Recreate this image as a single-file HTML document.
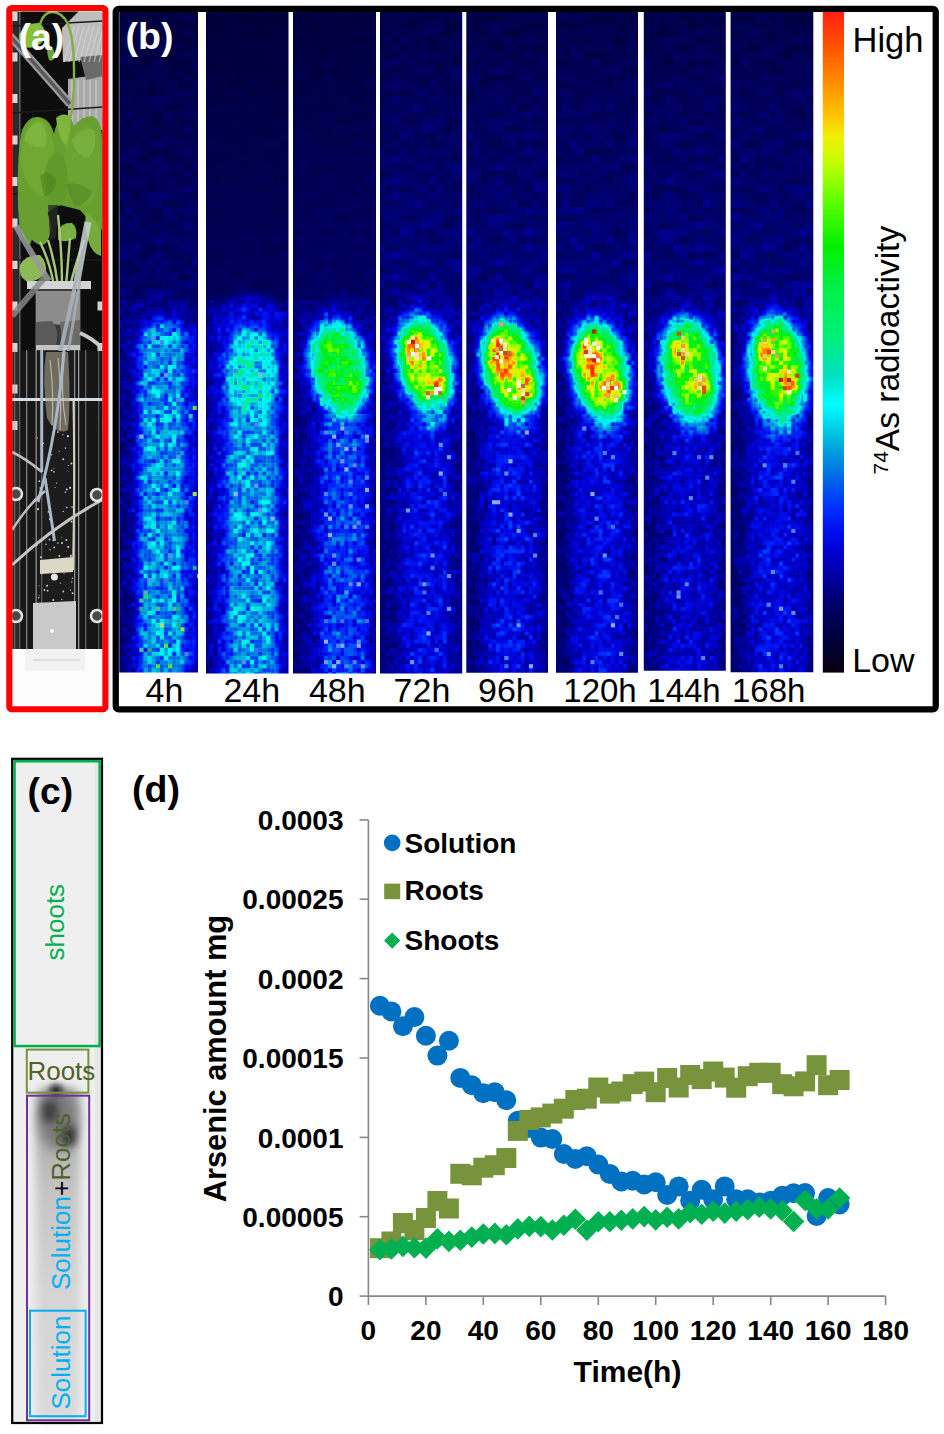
<!DOCTYPE html><html><head><meta charset="utf-8"><title>Figure</title><style>
html,body{margin:0;padding:0;background:#fff;}body{width:944px;height:1434px;overflow:hidden;position:relative;}
svg{position:absolute;left:0;top:0;}text{font-family:"Liberation Sans",sans-serif;}.m{mix-blend-mode:multiply;}
</style></head><body>
<svg width="944" height="1434" viewBox="0 0 944 1434">
<defs>
<filter id="jet" x="0" y="0" width="1" height="1" color-interpolation-filters="sRGB"><feComponentTransfer><feFuncR type="table" tableValues="0.039 0.028 0.017 0.005 0.000 0.000 0.000 0.000 0.000 0.000 0.000 0.000 0.000 0.000 0.000 0.000 0.000 0.000 0.000 0.000 0.000 0.000 0.000 0.000 0.000 0.000 0.000 0.000 0.000 0.000 0.000 0.000 0.000 0.000 0.000 0.000 0.000 0.000 0.000 0.000 0.000 0.036 0.120 0.204 0.289 0.373 0.480 0.589 0.698 0.790 0.864 0.939 0.971 1.000 1.000 1.000 1.000 1.000 1.000 1.000 1.000 1.000 1.000 1.000"/><feFuncG type="table" tableValues="0.000 0.000 0.000 0.000 0.000 0.000 0.000 0.000 0.000 0.000 0.000 0.000 0.019 0.047 0.089 0.146 0.208 0.287 0.365 0.448 0.531 0.615 0.700 0.785 0.868 0.952 0.981 0.938 0.894 0.891 0.909 0.928 0.941 0.941 0.941 0.941 0.941 0.941 0.941 0.941 0.941 0.947 0.960 0.973 0.986 0.999 1.000 1.000 1.000 0.989 0.965 0.942 0.861 0.779 0.711 0.643 0.575 0.507 0.439 0.371 0.305 0.245 0.185 0.125"/><feFuncB type="table" tableValues="0.063 0.117 0.171 0.226 0.281 0.338 0.394 0.455 0.538 0.621 0.704 0.787 0.853 0.910 0.953 0.980 0.991 0.953 0.915 0.898 0.884 0.878 0.878 0.894 0.935 0.976 0.962 0.873 0.784 0.704 0.629 0.554 0.488 0.442 0.396 0.350 0.305 0.259 0.190 0.116 0.042 0.000 0.000 0.000 0.000 0.000 0.000 0.000 0.000 0.000 0.000 0.000 0.000 0.000 0.000 0.000 0.000 0.000 0.000 0.000 0.003 0.023 0.043 0.063"/></feComponentTransfer></filter>
<filter id="b1" x="-50%" y="-50%" width="200%" height="200%"><feGaussianBlur stdDeviation="1"/></filter>
<filter id="b2" x="-50%" y="-50%" width="200%" height="200%"><feGaussianBlur stdDeviation="2"/></filter>
<filter id="b3" x="-50%" y="-50%" width="200%" height="200%"><feGaussianBlur stdDeviation="3"/></filter>
<filter id="b4" x="-50%" y="-50%" width="200%" height="200%"><feGaussianBlur stdDeviation="4"/></filter>
<filter id="b5" x="-50%" y="-50%" width="200%" height="200%"><feGaussianBlur stdDeviation="5"/></filter>
<filter id="b6" x="-50%" y="-50%" width="200%" height="200%"><feGaussianBlur stdDeviation="6"/></filter>
<filter id="b7" x="-50%" y="-50%" width="200%" height="200%"><feGaussianBlur stdDeviation="7"/></filter>
<filter id="b8" x="-50%" y="-50%" width="200%" height="200%"><feGaussianBlur stdDeviation="8"/></filter>
<filter id="b10" x="-50%" y="-50%" width="200%" height="200%"><feGaussianBlur stdDeviation="10"/></filter>
<filter id="b12" x="-50%" y="-50%" width="200%" height="200%"><feGaussianBlur stdDeviation="12"/></filter>
<filter id="b14" x="-50%" y="-50%" width="200%" height="200%"><feGaussianBlur stdDeviation="14"/></filter>
<linearGradient id="cbar" x1="0" y1="1" x2="0" y2="0">
<stop offset="0.000" stop-color="rgb(10,0,16)"/>
<stop offset="0.055" stop-color="rgb(0,0,64)"/>
<stop offset="0.108" stop-color="rgb(0,0,112)"/>
<stop offset="0.144" stop-color="rgb(0,0,160)"/>
<stop offset="0.180" stop-color="rgb(0,0,208)"/>
<stop offset="0.215" stop-color="rgb(0,16,240)"/>
<stop offset="0.250" stop-color="rgb(0,48,255)"/>
<stop offset="0.288" stop-color="rgb(0,96,232)"/>
<stop offset="0.324" stop-color="rgb(0,144,224)"/>
<stop offset="0.359" stop-color="rgb(0,192,224)"/>
<stop offset="0.406" stop-color="rgb(0,255,255)"/>
<stop offset="0.450" stop-color="rgb(0,224,192)"/>
<stop offset="0.503" stop-color="rgb(0,240,128)"/>
<stop offset="0.590" stop-color="rgb(0,240,64)"/>
<stop offset="0.644" stop-color="rgb(0,240,0)"/>
<stop offset="0.715" stop-color="rgb(96,255,0)"/>
<stop offset="0.770" stop-color="rgb(192,255,0)"/>
<stop offset="0.810" stop-color="rgb(240,240,0)"/>
<stop offset="0.840" stop-color="rgb(255,200,0)"/>
<stop offset="0.895" stop-color="rgb(255,140,0)"/>
<stop offset="0.950" stop-color="rgb(255,80,0)"/>
<stop offset="1.000" stop-color="rgb(255,32,16)"/>
</linearGradient>
<pattern id="nzA" x="0" y="0" width="77.9" height="77.9" patternUnits="userSpaceOnUse"><rect width="77.9" height="77.9" fill="#fff"/><rect x="0.0" y="0.0" width="4.14" height="4.14" fill="#c8c8c8"/><rect x="0.0" y="4.1" width="4.14" height="4.14" fill="#bababa"/><rect x="0.0" y="8.2" width="4.14" height="4.14" fill="#e3e3e3"/><rect x="0.0" y="12.3" width="4.14" height="4.14" fill="#b3b3b3"/><rect x="0.0" y="16.4" width="4.14" height="4.14" fill="#d9d9d9"/><rect x="0.0" y="20.5" width="4.14" height="4.14" fill="#cbcbcb"/><rect x="0.0" y="24.6" width="4.14" height="4.14" fill="#b2b2b2"/><rect x="0.0" y="28.7" width="4.14" height="4.14" fill="#d7d7d7"/><rect x="0.0" y="32.8" width="4.14" height="4.14" fill="#b0b0b0"/><rect x="0.0" y="36.9" width="4.14" height="4.14" fill="#d1d1d1"/><rect x="0.0" y="41.0" width="4.14" height="4.14" fill="#b3b3b3"/><rect x="0.0" y="45.1" width="4.14" height="4.14" fill="#b5b5b5"/><rect x="0.0" y="49.2" width="4.14" height="4.14" fill="#d0d0d0"/><rect x="0.0" y="53.3" width="4.14" height="4.14" fill="#f1f1f1"/><rect x="0.0" y="57.4" width="4.14" height="4.14" fill="#b8b8b8"/><rect x="0.0" y="61.5" width="4.14" height="4.14" fill="#c0c0c0"/><rect x="0.0" y="65.6" width="4.14" height="4.14" fill="#e1e1e1"/><rect x="0.0" y="69.7" width="4.14" height="4.14" fill="#fbfbfb"/><rect x="0.0" y="73.8" width="4.14" height="4.14" fill="#dcdcdc"/><rect x="4.1" y="0.0" width="4.14" height="4.14" fill="#cecece"/><rect x="4.1" y="8.2" width="4.14" height="4.14" fill="#b1b1b1"/><rect x="4.1" y="12.3" width="4.14" height="4.14" fill="#f3f3f3"/><rect x="4.1" y="16.4" width="4.14" height="4.14" fill="#c5c5c5"/><rect x="4.1" y="20.5" width="4.14" height="4.14" fill="#b9b9b9"/><rect x="4.1" y="24.6" width="4.14" height="4.14" fill="#b7b7b7"/><rect x="4.1" y="28.7" width="4.14" height="4.14" fill="#c7c7c7"/><rect x="4.1" y="32.8" width="4.14" height="4.14" fill="#f0f0f0"/><rect x="4.1" y="36.9" width="4.14" height="4.14" fill="#bcbcbc"/><rect x="4.1" y="41.0" width="4.14" height="4.14" fill="#dddddd"/><rect x="4.1" y="45.1" width="4.14" height="4.14" fill="#e2e2e2"/><rect x="4.1" y="49.2" width="4.14" height="4.14" fill="#cccccc"/><rect x="4.1" y="53.3" width="4.14" height="4.14" fill="#dadada"/><rect x="4.1" y="57.4" width="4.14" height="4.14" fill="#b3b3b3"/><rect x="4.1" y="61.5" width="4.14" height="4.14" fill="#b2b2b2"/><rect x="4.1" y="65.6" width="4.14" height="4.14" fill="#bebebe"/><rect x="4.1" y="69.7" width="4.14" height="4.14" fill="#e5e5e5"/><rect x="4.1" y="73.8" width="4.14" height="4.14" fill="#d0d0d0"/><rect x="8.2" y="0.0" width="4.14" height="4.14" fill="#c7c7c7"/><rect x="8.2" y="4.1" width="4.14" height="4.14" fill="#dddddd"/><rect x="8.2" y="8.2" width="4.14" height="4.14" fill="#d2d2d2"/><rect x="8.2" y="12.3" width="4.14" height="4.14" fill="#c6c6c6"/><rect x="8.2" y="16.4" width="4.14" height="4.14" fill="#eeeeee"/><rect x="8.2" y="20.5" width="4.14" height="4.14" fill="#e6e6e6"/><rect x="8.2" y="24.6" width="4.14" height="4.14" fill="#c1c1c1"/><rect x="8.2" y="28.7" width="4.14" height="4.14" fill="#dcdcdc"/><rect x="8.2" y="32.8" width="4.14" height="4.14" fill="#d8d8d8"/><rect x="8.2" y="36.9" width="4.14" height="4.14" fill="#f5f5f5"/><rect x="8.2" y="41.0" width="4.14" height="4.14" fill="#e9e9e9"/><rect x="8.2" y="45.1" width="4.14" height="4.14" fill="#c5c5c5"/><rect x="8.2" y="53.3" width="4.14" height="4.14" fill="#b7b7b7"/><rect x="8.2" y="57.4" width="4.14" height="4.14" fill="#d0d0d0"/><rect x="8.2" y="61.5" width="4.14" height="4.14" fill="#ebebeb"/><rect x="8.2" y="65.6" width="4.14" height="4.14" fill="#bababa"/><rect x="8.2" y="69.7" width="4.14" height="4.14" fill="#d5d5d5"/><rect x="8.2" y="73.8" width="4.14" height="4.14" fill="#b1b1b1"/><rect x="12.3" y="0.0" width="4.14" height="4.14" fill="#e4e4e4"/><rect x="12.3" y="4.1" width="4.14" height="4.14" fill="#ececec"/><rect x="12.3" y="8.2" width="4.14" height="4.14" fill="#dcdcdc"/><rect x="12.3" y="12.3" width="4.14" height="4.14" fill="#f5f5f5"/><rect x="12.3" y="16.4" width="4.14" height="4.14" fill="#c7c7c7"/><rect x="12.3" y="20.5" width="4.14" height="4.14" fill="#e6e6e6"/><rect x="12.3" y="24.6" width="4.14" height="4.14" fill="#dedede"/><rect x="12.3" y="28.7" width="4.14" height="4.14" fill="#dddddd"/><rect x="12.3" y="32.8" width="4.14" height="4.14" fill="#d3d3d3"/><rect x="12.3" y="36.9" width="4.14" height="4.14" fill="#f2f2f2"/><rect x="12.3" y="41.0" width="4.14" height="4.14" fill="#fafafa"/><rect x="12.3" y="45.1" width="4.14" height="4.14" fill="#d4d4d4"/><rect x="12.3" y="49.2" width="4.14" height="4.14" fill="#e4e4e4"/><rect x="12.3" y="53.3" width="4.14" height="4.14" fill="#b2b2b2"/><rect x="12.3" y="57.4" width="4.14" height="4.14" fill="#e7e7e7"/><rect x="12.3" y="61.5" width="4.14" height="4.14" fill="#e2e2e2"/><rect x="12.3" y="69.7" width="4.14" height="4.14" fill="#f0f0f0"/><rect x="12.3" y="73.8" width="4.14" height="4.14" fill="#c5c5c5"/><rect x="16.4" y="0.0" width="4.14" height="4.14" fill="#cdcdcd"/><rect x="16.4" y="4.1" width="4.14" height="4.14" fill="#e4e4e4"/><rect x="16.4" y="8.2" width="4.14" height="4.14" fill="#afafaf"/><rect x="16.4" y="12.3" width="4.14" height="4.14" fill="#d3d3d3"/><rect x="16.4" y="16.4" width="4.14" height="4.14" fill="#bbbbbb"/><rect x="16.4" y="20.5" width="4.14" height="4.14" fill="#b7b7b7"/><rect x="16.4" y="24.6" width="4.14" height="4.14" fill="#b2b2b2"/><rect x="16.4" y="28.7" width="4.14" height="4.14" fill="#ececec"/><rect x="16.4" y="32.8" width="4.14" height="4.14" fill="#b8b8b8"/><rect x="16.4" y="36.9" width="4.14" height="4.14" fill="#c2c2c2"/><rect x="16.4" y="41.0" width="4.14" height="4.14" fill="#cdcdcd"/><rect x="16.4" y="45.1" width="4.14" height="4.14" fill="#f5f5f5"/><rect x="16.4" y="49.2" width="4.14" height="4.14" fill="#b4b4b4"/><rect x="16.4" y="53.3" width="4.14" height="4.14" fill="#d2d2d2"/><rect x="16.4" y="57.4" width="4.14" height="4.14" fill="#dadada"/><rect x="16.4" y="61.5" width="4.14" height="4.14" fill="#f5f5f5"/><rect x="16.4" y="65.6" width="4.14" height="4.14" fill="#f0f0f0"/><rect x="16.4" y="69.7" width="4.14" height="4.14" fill="#f4f4f4"/><rect x="16.4" y="73.8" width="4.14" height="4.14" fill="#c4c4c4"/><rect x="20.5" y="0.0" width="4.14" height="4.14" fill="#cfcfcf"/><rect x="20.5" y="4.1" width="4.14" height="4.14" fill="#cbcbcb"/><rect x="20.5" y="8.2" width="4.14" height="4.14" fill="#f6f6f6"/><rect x="20.5" y="16.4" width="4.14" height="4.14" fill="#bababa"/><rect x="20.5" y="20.5" width="4.14" height="4.14" fill="#bcbcbc"/><rect x="20.5" y="24.6" width="4.14" height="4.14" fill="#c0c0c0"/><rect x="20.5" y="28.7" width="4.14" height="4.14" fill="#c0c0c0"/><rect x="20.5" y="32.8" width="4.14" height="4.14" fill="#d5d5d5"/><rect x="20.5" y="36.9" width="4.14" height="4.14" fill="#dddddd"/><rect x="20.5" y="41.0" width="4.14" height="4.14" fill="#c3c3c3"/><rect x="20.5" y="45.1" width="4.14" height="4.14" fill="#aeaeae"/><rect x="20.5" y="49.2" width="4.14" height="4.14" fill="#d0d0d0"/><rect x="20.5" y="53.3" width="4.14" height="4.14" fill="#cccccc"/><rect x="20.5" y="57.4" width="4.14" height="4.14" fill="#dcdcdc"/><rect x="20.5" y="61.5" width="4.14" height="4.14" fill="#fbfbfb"/><rect x="20.5" y="65.6" width="4.14" height="4.14" fill="#e6e6e6"/><rect x="20.5" y="69.7" width="4.14" height="4.14" fill="#d7d7d7"/><rect x="20.5" y="73.8" width="4.14" height="4.14" fill="#e0e0e0"/><rect x="24.6" y="0.0" width="4.14" height="4.14" fill="#e5e5e5"/><rect x="24.6" y="4.1" width="4.14" height="4.14" fill="#b2b2b2"/><rect x="24.6" y="8.2" width="4.14" height="4.14" fill="#f7f7f7"/><rect x="24.6" y="12.3" width="4.14" height="4.14" fill="#ededed"/><rect x="24.6" y="16.4" width="4.14" height="4.14" fill="#f5f5f5"/><rect x="24.6" y="20.5" width="4.14" height="4.14" fill="#efefef"/><rect x="24.6" y="24.6" width="4.14" height="4.14" fill="#cdcdcd"/><rect x="24.6" y="28.7" width="4.14" height="4.14" fill="#cecece"/><rect x="24.6" y="32.8" width="4.14" height="4.14" fill="#b6b6b6"/><rect x="24.6" y="36.9" width="4.14" height="4.14" fill="#e1e1e1"/><rect x="24.6" y="41.0" width="4.14" height="4.14" fill="#b2b2b2"/><rect x="24.6" y="45.1" width="4.14" height="4.14" fill="#b3b3b3"/><rect x="24.6" y="49.2" width="4.14" height="4.14" fill="#bebebe"/><rect x="24.6" y="53.3" width="4.14" height="4.14" fill="#bbbbbb"/><rect x="24.6" y="57.4" width="4.14" height="4.14" fill="#c9c9c9"/><rect x="24.6" y="61.5" width="4.14" height="4.14" fill="#b2b2b2"/><rect x="24.6" y="65.6" width="4.14" height="4.14" fill="#adadad"/><rect x="24.6" y="69.7" width="4.14" height="4.14" fill="#bababa"/><rect x="24.6" y="73.8" width="4.14" height="4.14" fill="#b6b6b6"/><rect x="28.7" y="0.0" width="4.14" height="4.14" fill="#cbcbcb"/><rect x="28.7" y="4.1" width="4.14" height="4.14" fill="#afafaf"/><rect x="28.7" y="8.2" width="4.14" height="4.14" fill="#f5f5f5"/><rect x="28.7" y="12.3" width="4.14" height="4.14" fill="#e0e0e0"/><rect x="28.7" y="16.4" width="4.14" height="4.14" fill="#bababa"/><rect x="28.7" y="20.5" width="4.14" height="4.14" fill="#c2c2c2"/><rect x="28.7" y="24.6" width="4.14" height="4.14" fill="#cacaca"/><rect x="28.7" y="28.7" width="4.14" height="4.14" fill="#cbcbcb"/><rect x="28.7" y="32.8" width="4.14" height="4.14" fill="#b7b7b7"/><rect x="28.7" y="36.9" width="4.14" height="4.14" fill="#f3f3f3"/><rect x="28.7" y="45.1" width="4.14" height="4.14" fill="#d3d3d3"/><rect x="28.7" y="49.2" width="4.14" height="4.14" fill="#d5d5d5"/><rect x="28.7" y="53.3" width="4.14" height="4.14" fill="#b4b4b4"/><rect x="28.7" y="57.4" width="4.14" height="4.14" fill="#b6b6b6"/><rect x="28.7" y="61.5" width="4.14" height="4.14" fill="#c9c9c9"/><rect x="28.7" y="65.6" width="4.14" height="4.14" fill="#c3c3c3"/><rect x="28.7" y="69.7" width="4.14" height="4.14" fill="#f1f1f1"/><rect x="28.7" y="73.8" width="4.14" height="4.14" fill="#bbbbbb"/><rect x="32.8" y="0.0" width="4.14" height="4.14" fill="#afafaf"/><rect x="32.8" y="4.1" width="4.14" height="4.14" fill="#fbfbfb"/><rect x="32.8" y="8.2" width="4.14" height="4.14" fill="#d9d9d9"/><rect x="32.8" y="12.3" width="4.14" height="4.14" fill="#b9b9b9"/><rect x="32.8" y="16.4" width="4.14" height="4.14" fill="#dadada"/><rect x="32.8" y="20.5" width="4.14" height="4.14" fill="#b0b0b0"/><rect x="32.8" y="24.6" width="4.14" height="4.14" fill="#d8d8d8"/><rect x="32.8" y="32.8" width="4.14" height="4.14" fill="#f4f4f4"/><rect x="32.8" y="36.9" width="4.14" height="4.14" fill="#e6e6e6"/><rect x="32.8" y="41.0" width="4.14" height="4.14" fill="#c3c3c3"/><rect x="32.8" y="45.1" width="4.14" height="4.14" fill="#cbcbcb"/><rect x="32.8" y="49.2" width="4.14" height="4.14" fill="#bbbbbb"/><rect x="32.8" y="53.3" width="4.14" height="4.14" fill="#ececec"/><rect x="32.8" y="57.4" width="4.14" height="4.14" fill="#d9d9d9"/><rect x="32.8" y="61.5" width="4.14" height="4.14" fill="#ededed"/><rect x="32.8" y="65.6" width="4.14" height="4.14" fill="#c8c8c8"/><rect x="32.8" y="69.7" width="4.14" height="4.14" fill="#c0c0c0"/><rect x="32.8" y="73.8" width="4.14" height="4.14" fill="#f0f0f0"/><rect x="36.9" y="4.1" width="4.14" height="4.14" fill="#f3f3f3"/><rect x="36.9" y="8.2" width="4.14" height="4.14" fill="#efefef"/><rect x="36.9" y="12.3" width="4.14" height="4.14" fill="#f0f0f0"/><rect x="36.9" y="16.4" width="4.14" height="4.14" fill="#eaeaea"/><rect x="36.9" y="20.5" width="4.14" height="4.14" fill="#c0c0c0"/><rect x="36.9" y="24.6" width="4.14" height="4.14" fill="#d8d8d8"/><rect x="36.9" y="28.7" width="4.14" height="4.14" fill="#cacaca"/><rect x="36.9" y="32.8" width="4.14" height="4.14" fill="#b0b0b0"/><rect x="36.9" y="36.9" width="4.14" height="4.14" fill="#b0b0b0"/><rect x="36.9" y="41.0" width="4.14" height="4.14" fill="#c4c4c4"/><rect x="36.9" y="45.1" width="4.14" height="4.14" fill="#c3c3c3"/><rect x="36.9" y="49.2" width="4.14" height="4.14" fill="#e6e6e6"/><rect x="36.9" y="57.4" width="4.14" height="4.14" fill="#d2d2d2"/><rect x="36.9" y="61.5" width="4.14" height="4.14" fill="#fafafa"/><rect x="36.9" y="73.8" width="4.14" height="4.14" fill="#cbcbcb"/><rect x="41.0" y="0.0" width="4.14" height="4.14" fill="#bfbfbf"/><rect x="41.0" y="4.1" width="4.14" height="4.14" fill="#c0c0c0"/><rect x="41.0" y="8.2" width="4.14" height="4.14" fill="#bdbdbd"/><rect x="41.0" y="12.3" width="4.14" height="4.14" fill="#bebebe"/><rect x="41.0" y="16.4" width="4.14" height="4.14" fill="#e0e0e0"/><rect x="41.0" y="20.5" width="4.14" height="4.14" fill="#f7f7f7"/><rect x="41.0" y="24.6" width="4.14" height="4.14" fill="#f2f2f2"/><rect x="41.0" y="28.7" width="4.14" height="4.14" fill="#d5d5d5"/><rect x="41.0" y="32.8" width="4.14" height="4.14" fill="#e3e3e3"/><rect x="41.0" y="36.9" width="4.14" height="4.14" fill="#efefef"/><rect x="41.0" y="41.0" width="4.14" height="4.14" fill="#b4b4b4"/><rect x="41.0" y="45.1" width="4.14" height="4.14" fill="#e3e3e3"/><rect x="41.0" y="49.2" width="4.14" height="4.14" fill="#f8f8f8"/><rect x="41.0" y="53.3" width="4.14" height="4.14" fill="#ededed"/><rect x="41.0" y="57.4" width="4.14" height="4.14" fill="#ebebeb"/><rect x="41.0" y="61.5" width="4.14" height="4.14" fill="#d4d4d4"/><rect x="41.0" y="65.6" width="4.14" height="4.14" fill="#bcbcbc"/><rect x="41.0" y="69.7" width="4.14" height="4.14" fill="#eeeeee"/><rect x="41.0" y="73.8" width="4.14" height="4.14" fill="#c9c9c9"/><rect x="45.1" y="0.0" width="4.14" height="4.14" fill="#efefef"/><rect x="45.1" y="8.2" width="4.14" height="4.14" fill="#cecece"/><rect x="45.1" y="12.3" width="4.14" height="4.14" fill="#cecece"/><rect x="45.1" y="16.4" width="4.14" height="4.14" fill="#fbfbfb"/><rect x="45.1" y="20.5" width="4.14" height="4.14" fill="#e9e9e9"/><rect x="45.1" y="24.6" width="4.14" height="4.14" fill="#bbbbbb"/><rect x="45.1" y="28.7" width="4.14" height="4.14" fill="#b8b8b8"/><rect x="45.1" y="32.8" width="4.14" height="4.14" fill="#bababa"/><rect x="45.1" y="36.9" width="4.14" height="4.14" fill="#f7f7f7"/><rect x="45.1" y="41.0" width="4.14" height="4.14" fill="#efefef"/><rect x="45.1" y="45.1" width="4.14" height="4.14" fill="#b9b9b9"/><rect x="45.1" y="49.2" width="4.14" height="4.14" fill="#f1f1f1"/><rect x="45.1" y="57.4" width="4.14" height="4.14" fill="#e3e3e3"/><rect x="45.1" y="61.5" width="4.14" height="4.14" fill="#cacaca"/><rect x="45.1" y="65.6" width="4.14" height="4.14" fill="#dadada"/><rect x="45.1" y="69.7" width="4.14" height="4.14" fill="#b8b8b8"/><rect x="45.1" y="73.8" width="4.14" height="4.14" fill="#afafaf"/><rect x="49.2" y="4.1" width="4.14" height="4.14" fill="#e2e2e2"/><rect x="49.2" y="8.2" width="4.14" height="4.14" fill="#d8d8d8"/><rect x="49.2" y="12.3" width="4.14" height="4.14" fill="#fafafa"/><rect x="49.2" y="16.4" width="4.14" height="4.14" fill="#d1d1d1"/><rect x="49.2" y="20.5" width="4.14" height="4.14" fill="#f5f5f5"/><rect x="49.2" y="24.6" width="4.14" height="4.14" fill="#f1f1f1"/><rect x="49.2" y="28.7" width="4.14" height="4.14" fill="#bfbfbf"/><rect x="49.2" y="32.8" width="4.14" height="4.14" fill="#c2c2c2"/><rect x="49.2" y="36.9" width="4.14" height="4.14" fill="#c5c5c5"/><rect x="49.2" y="41.0" width="4.14" height="4.14" fill="#c1c1c1"/><rect x="49.2" y="45.1" width="4.14" height="4.14" fill="#dddddd"/><rect x="49.2" y="49.2" width="4.14" height="4.14" fill="#c3c3c3"/><rect x="49.2" y="53.3" width="4.14" height="4.14" fill="#d0d0d0"/><rect x="49.2" y="57.4" width="4.14" height="4.14" fill="#b8b8b8"/><rect x="49.2" y="61.5" width="4.14" height="4.14" fill="#f8f8f8"/><rect x="49.2" y="65.6" width="4.14" height="4.14" fill="#cacaca"/><rect x="49.2" y="69.7" width="4.14" height="4.14" fill="#d3d3d3"/><rect x="49.2" y="73.8" width="4.14" height="4.14" fill="#dddddd"/><rect x="53.3" y="0.0" width="4.14" height="4.14" fill="#f7f7f7"/><rect x="53.3" y="4.1" width="4.14" height="4.14" fill="#d0d0d0"/><rect x="53.3" y="8.2" width="4.14" height="4.14" fill="#f8f8f8"/><rect x="53.3" y="12.3" width="4.14" height="4.14" fill="#d6d6d6"/><rect x="53.3" y="16.4" width="4.14" height="4.14" fill="#d9d9d9"/><rect x="53.3" y="20.5" width="4.14" height="4.14" fill="#d8d8d8"/><rect x="53.3" y="24.6" width="4.14" height="4.14" fill="#afafaf"/><rect x="53.3" y="28.7" width="4.14" height="4.14" fill="#d1d1d1"/><rect x="53.3" y="32.8" width="4.14" height="4.14" fill="#bcbcbc"/><rect x="53.3" y="36.9" width="4.14" height="4.14" fill="#aeaeae"/><rect x="53.3" y="41.0" width="4.14" height="4.14" fill="#efefef"/><rect x="53.3" y="45.1" width="4.14" height="4.14" fill="#bbbbbb"/><rect x="53.3" y="49.2" width="4.14" height="4.14" fill="#d4d4d4"/><rect x="53.3" y="53.3" width="4.14" height="4.14" fill="#e9e9e9"/><rect x="53.3" y="57.4" width="4.14" height="4.14" fill="#dbdbdb"/><rect x="53.3" y="61.5" width="4.14" height="4.14" fill="#c8c8c8"/><rect x="53.3" y="65.6" width="4.14" height="4.14" fill="#d8d8d8"/><rect x="53.3" y="69.7" width="4.14" height="4.14" fill="#dbdbdb"/><rect x="53.3" y="73.8" width="4.14" height="4.14" fill="#ededed"/><rect x="57.4" y="0.0" width="4.14" height="4.14" fill="#b6b6b6"/><rect x="57.4" y="4.1" width="4.14" height="4.14" fill="#dbdbdb"/><rect x="57.4" y="8.2" width="4.14" height="4.14" fill="#c2c2c2"/><rect x="57.4" y="12.3" width="4.14" height="4.14" fill="#c4c4c4"/><rect x="57.4" y="16.4" width="4.14" height="4.14" fill="#ececec"/><rect x="57.4" y="20.5" width="4.14" height="4.14" fill="#d7d7d7"/><rect x="57.4" y="24.6" width="4.14" height="4.14" fill="#dbdbdb"/><rect x="57.4" y="28.7" width="4.14" height="4.14" fill="#ebebeb"/><rect x="57.4" y="32.8" width="4.14" height="4.14" fill="#f8f8f8"/><rect x="57.4" y="36.9" width="4.14" height="4.14" fill="#d2d2d2"/><rect x="57.4" y="41.0" width="4.14" height="4.14" fill="#dfdfdf"/><rect x="57.4" y="45.1" width="4.14" height="4.14" fill="#d7d7d7"/><rect x="57.4" y="49.2" width="4.14" height="4.14" fill="#d7d7d7"/><rect x="57.4" y="53.3" width="4.14" height="4.14" fill="#e6e6e6"/><rect x="57.4" y="57.4" width="4.14" height="4.14" fill="#d2d2d2"/><rect x="57.4" y="61.5" width="4.14" height="4.14" fill="#d9d9d9"/><rect x="57.4" y="65.6" width="4.14" height="4.14" fill="#d4d4d4"/><rect x="57.4" y="69.7" width="4.14" height="4.14" fill="#fafafa"/><rect x="57.4" y="73.8" width="4.14" height="4.14" fill="#e6e6e6"/><rect x="61.5" y="0.0" width="4.14" height="4.14" fill="#f5f5f5"/><rect x="61.5" y="4.1" width="4.14" height="4.14" fill="#fafafa"/><rect x="61.5" y="8.2" width="4.14" height="4.14" fill="#c3c3c3"/><rect x="61.5" y="12.3" width="4.14" height="4.14" fill="#dbdbdb"/><rect x="61.5" y="16.4" width="4.14" height="4.14" fill="#fafafa"/><rect x="61.5" y="20.5" width="4.14" height="4.14" fill="#f2f2f2"/><rect x="61.5" y="24.6" width="4.14" height="4.14" fill="#b9b9b9"/><rect x="61.5" y="28.7" width="4.14" height="4.14" fill="#b7b7b7"/><rect x="61.5" y="32.8" width="4.14" height="4.14" fill="#d1d1d1"/><rect x="61.5" y="36.9" width="4.14" height="4.14" fill="#b3b3b3"/><rect x="61.5" y="41.0" width="4.14" height="4.14" fill="#c1c1c1"/><rect x="61.5" y="45.1" width="4.14" height="4.14" fill="#b3b3b3"/><rect x="61.5" y="49.2" width="4.14" height="4.14" fill="#e4e4e4"/><rect x="61.5" y="53.3" width="4.14" height="4.14" fill="#ededed"/><rect x="61.5" y="57.4" width="4.14" height="4.14" fill="#f7f7f7"/><rect x="61.5" y="61.5" width="4.14" height="4.14" fill="#bababa"/><rect x="61.5" y="65.6" width="4.14" height="4.14" fill="#e8e8e8"/><rect x="61.5" y="69.7" width="4.14" height="4.14" fill="#e3e3e3"/><rect x="61.5" y="73.8" width="4.14" height="4.14" fill="#b9b9b9"/><rect x="65.6" y="0.0" width="4.14" height="4.14" fill="#f5f5f5"/><rect x="65.6" y="8.2" width="4.14" height="4.14" fill="#bfbfbf"/><rect x="65.6" y="12.3" width="4.14" height="4.14" fill="#fbfbfb"/><rect x="65.6" y="16.4" width="4.14" height="4.14" fill="#cecece"/><rect x="65.6" y="20.5" width="4.14" height="4.14" fill="#d5d5d5"/><rect x="65.6" y="28.7" width="4.14" height="4.14" fill="#f1f1f1"/><rect x="65.6" y="32.8" width="4.14" height="4.14" fill="#bbbbbb"/><rect x="65.6" y="36.9" width="4.14" height="4.14" fill="#d1d1d1"/><rect x="65.6" y="41.0" width="4.14" height="4.14" fill="#d7d7d7"/><rect x="65.6" y="45.1" width="4.14" height="4.14" fill="#c9c9c9"/><rect x="65.6" y="49.2" width="4.14" height="4.14" fill="#bdbdbd"/><rect x="65.6" y="53.3" width="4.14" height="4.14" fill="#c7c7c7"/><rect x="65.6" y="57.4" width="4.14" height="4.14" fill="#e8e8e8"/><rect x="65.6" y="61.5" width="4.14" height="4.14" fill="#afafaf"/><rect x="65.6" y="65.6" width="4.14" height="4.14" fill="#dbdbdb"/><rect x="65.6" y="69.7" width="4.14" height="4.14" fill="#d1d1d1"/><rect x="65.6" y="73.8" width="4.14" height="4.14" fill="#afafaf"/><rect x="69.7" y="0.0" width="4.14" height="4.14" fill="#c8c8c8"/><rect x="69.7" y="4.1" width="4.14" height="4.14" fill="#e0e0e0"/><rect x="69.7" y="8.2" width="4.14" height="4.14" fill="#d7d7d7"/><rect x="69.7" y="12.3" width="4.14" height="4.14" fill="#b3b3b3"/><rect x="69.7" y="20.5" width="4.14" height="4.14" fill="#eeeeee"/><rect x="69.7" y="28.7" width="4.14" height="4.14" fill="#b6b6b6"/><rect x="69.7" y="32.8" width="4.14" height="4.14" fill="#c3c3c3"/><rect x="69.7" y="36.9" width="4.14" height="4.14" fill="#b1b1b1"/><rect x="69.7" y="41.0" width="4.14" height="4.14" fill="#ededed"/><rect x="69.7" y="45.1" width="4.14" height="4.14" fill="#c3c3c3"/><rect x="69.7" y="49.2" width="4.14" height="4.14" fill="#b8b8b8"/><rect x="69.7" y="53.3" width="4.14" height="4.14" fill="#d0d0d0"/><rect x="69.7" y="57.4" width="4.14" height="4.14" fill="#f8f8f8"/><rect x="69.7" y="61.5" width="4.14" height="4.14" fill="#f0f0f0"/><rect x="69.7" y="65.6" width="4.14" height="4.14" fill="#c3c3c3"/><rect x="69.7" y="69.7" width="4.14" height="4.14" fill="#bababa"/><rect x="69.7" y="73.8" width="4.14" height="4.14" fill="#f8f8f8"/><rect x="73.8" y="0.0" width="4.14" height="4.14" fill="#dcdcdc"/><rect x="73.8" y="4.1" width="4.14" height="4.14" fill="#e7e7e7"/><rect x="73.8" y="8.2" width="4.14" height="4.14" fill="#b5b5b5"/><rect x="73.8" y="12.3" width="4.14" height="4.14" fill="#b2b2b2"/><rect x="73.8" y="16.4" width="4.14" height="4.14" fill="#e6e6e6"/><rect x="73.8" y="20.5" width="4.14" height="4.14" fill="#d0d0d0"/><rect x="73.8" y="24.6" width="4.14" height="4.14" fill="#b3b3b3"/><rect x="73.8" y="28.7" width="4.14" height="4.14" fill="#fafafa"/><rect x="73.8" y="32.8" width="4.14" height="4.14" fill="#e1e1e1"/><rect x="73.8" y="36.9" width="4.14" height="4.14" fill="#efefef"/><rect x="73.8" y="41.0" width="4.14" height="4.14" fill="#b4b4b4"/><rect x="73.8" y="45.1" width="4.14" height="4.14" fill="#f3f3f3"/><rect x="73.8" y="49.2" width="4.14" height="4.14" fill="#b3b3b3"/><rect x="73.8" y="53.3" width="4.14" height="4.14" fill="#f4f4f4"/><rect x="73.8" y="57.4" width="4.14" height="4.14" fill="#d2d2d2"/><rect x="73.8" y="61.5" width="4.14" height="4.14" fill="#c9c9c9"/><rect x="73.8" y="65.6" width="4.14" height="4.14" fill="#dbdbdb"/><rect x="73.8" y="69.7" width="4.14" height="4.14" fill="#f9f9f9"/><rect x="73.8" y="73.8" width="4.14" height="4.14" fill="#c3c3c3"/></pattern>
<pattern id="nzB" x="0" y="0" width="94.3" height="94.3" patternUnits="userSpaceOnUse"><rect width="94.3" height="94.3" fill="#fff"/><rect x="0.0" y="0.0" width="4.14" height="4.14" fill="#b8b8b8"/><rect x="0.0" y="4.1" width="4.14" height="4.14" fill="#d8d8d8"/><rect x="0.0" y="8.2" width="4.14" height="4.14" fill="#c1c1c1"/><rect x="0.0" y="12.3" width="4.14" height="4.14" fill="#b6b6b6"/><rect x="0.0" y="16.4" width="4.14" height="4.14" fill="#bbbbbb"/><rect x="0.0" y="20.5" width="4.14" height="4.14" fill="#b2b2b2"/><rect x="0.0" y="24.6" width="4.14" height="4.14" fill="#bebebe"/><rect x="0.0" y="28.7" width="4.14" height="4.14" fill="#c7c7c7"/><rect x="0.0" y="32.8" width="4.14" height="4.14" fill="#c6c6c6"/><rect x="0.0" y="36.9" width="4.14" height="4.14" fill="#ebebeb"/><rect x="0.0" y="41.0" width="4.14" height="4.14" fill="#c5c5c5"/><rect x="0.0" y="45.1" width="4.14" height="4.14" fill="#d6d6d6"/><rect x="0.0" y="49.2" width="4.14" height="4.14" fill="#bcbcbc"/><rect x="0.0" y="53.3" width="4.14" height="4.14" fill="#cacaca"/><rect x="0.0" y="57.4" width="4.14" height="4.14" fill="#afafaf"/><rect x="0.0" y="61.5" width="4.14" height="4.14" fill="#c2c2c2"/><rect x="0.0" y="65.6" width="4.14" height="4.14" fill="#afafaf"/><rect x="0.0" y="69.7" width="4.14" height="4.14" fill="#e9e9e9"/><rect x="0.0" y="73.8" width="4.14" height="4.14" fill="#dadada"/><rect x="0.0" y="77.9" width="4.14" height="4.14" fill="#bdbdbd"/><rect x="0.0" y="82.0" width="4.14" height="4.14" fill="#d4d4d4"/><rect x="0.0" y="86.1" width="4.14" height="4.14" fill="#fafafa"/><rect x="0.0" y="90.2" width="4.14" height="4.14" fill="#b6b6b6"/><rect x="4.1" y="0.0" width="4.14" height="4.14" fill="#f0f0f0"/><rect x="4.1" y="4.1" width="4.14" height="4.14" fill="#d1d1d1"/><rect x="4.1" y="8.2" width="4.14" height="4.14" fill="#d6d6d6"/><rect x="4.1" y="12.3" width="4.14" height="4.14" fill="#f2f2f2"/><rect x="4.1" y="16.4" width="4.14" height="4.14" fill="#cdcdcd"/><rect x="4.1" y="20.5" width="4.14" height="4.14" fill="#d7d7d7"/><rect x="4.1" y="24.6" width="4.14" height="4.14" fill="#e6e6e6"/><rect x="4.1" y="32.8" width="4.14" height="4.14" fill="#c9c9c9"/><rect x="4.1" y="36.9" width="4.14" height="4.14" fill="#f1f1f1"/><rect x="4.1" y="41.0" width="4.14" height="4.14" fill="#e7e7e7"/><rect x="4.1" y="45.1" width="4.14" height="4.14" fill="#e1e1e1"/><rect x="4.1" y="49.2" width="4.14" height="4.14" fill="#cecece"/><rect x="4.1" y="53.3" width="4.14" height="4.14" fill="#cacaca"/><rect x="4.1" y="57.4" width="4.14" height="4.14" fill="#b2b2b2"/><rect x="4.1" y="61.5" width="4.14" height="4.14" fill="#b8b8b8"/><rect x="4.1" y="65.6" width="4.14" height="4.14" fill="#b3b3b3"/><rect x="4.1" y="69.7" width="4.14" height="4.14" fill="#eaeaea"/><rect x="4.1" y="73.8" width="4.14" height="4.14" fill="#c2c2c2"/><rect x="4.1" y="77.9" width="4.14" height="4.14" fill="#bbbbbb"/><rect x="4.1" y="82.0" width="4.14" height="4.14" fill="#b4b4b4"/><rect x="4.1" y="86.1" width="4.14" height="4.14" fill="#f2f2f2"/><rect x="4.1" y="90.2" width="4.14" height="4.14" fill="#f4f4f4"/><rect x="8.2" y="0.0" width="4.14" height="4.14" fill="#e4e4e4"/><rect x="8.2" y="4.1" width="4.14" height="4.14" fill="#c4c4c4"/><rect x="8.2" y="8.2" width="4.14" height="4.14" fill="#c1c1c1"/><rect x="8.2" y="12.3" width="4.14" height="4.14" fill="#c5c5c5"/><rect x="8.2" y="16.4" width="4.14" height="4.14" fill="#d3d3d3"/><rect x="8.2" y="20.5" width="4.14" height="4.14" fill="#bababa"/><rect x="8.2" y="24.6" width="4.14" height="4.14" fill="#d2d2d2"/><rect x="8.2" y="28.7" width="4.14" height="4.14" fill="#c3c3c3"/><rect x="8.2" y="41.0" width="4.14" height="4.14" fill="#dadada"/><rect x="8.2" y="45.1" width="4.14" height="4.14" fill="#c1c1c1"/><rect x="8.2" y="53.3" width="4.14" height="4.14" fill="#c7c7c7"/><rect x="8.2" y="57.4" width="4.14" height="4.14" fill="#cacaca"/><rect x="8.2" y="61.5" width="4.14" height="4.14" fill="#adadad"/><rect x="8.2" y="65.6" width="4.14" height="4.14" fill="#cdcdcd"/><rect x="8.2" y="69.7" width="4.14" height="4.14" fill="#d4d4d4"/><rect x="8.2" y="73.8" width="4.14" height="4.14" fill="#d6d6d6"/><rect x="8.2" y="77.9" width="4.14" height="4.14" fill="#bebebe"/><rect x="8.2" y="82.0" width="4.14" height="4.14" fill="#d7d7d7"/><rect x="8.2" y="86.1" width="4.14" height="4.14" fill="#aeaeae"/><rect x="8.2" y="90.2" width="4.14" height="4.14" fill="#c3c3c3"/><rect x="12.3" y="0.0" width="4.14" height="4.14" fill="#b5b5b5"/><rect x="12.3" y="4.1" width="4.14" height="4.14" fill="#cecece"/><rect x="12.3" y="8.2" width="4.14" height="4.14" fill="#b1b1b1"/><rect x="12.3" y="12.3" width="4.14" height="4.14" fill="#afafaf"/><rect x="12.3" y="16.4" width="4.14" height="4.14" fill="#c6c6c6"/><rect x="12.3" y="20.5" width="4.14" height="4.14" fill="#c0c0c0"/><rect x="12.3" y="24.6" width="4.14" height="4.14" fill="#dddddd"/><rect x="12.3" y="28.7" width="4.14" height="4.14" fill="#d9d9d9"/><rect x="12.3" y="32.8" width="4.14" height="4.14" fill="#ebebeb"/><rect x="12.3" y="36.9" width="4.14" height="4.14" fill="#e3e3e3"/><rect x="12.3" y="41.0" width="4.14" height="4.14" fill="#e8e8e8"/><rect x="12.3" y="45.1" width="4.14" height="4.14" fill="#f5f5f5"/><rect x="12.3" y="49.2" width="4.14" height="4.14" fill="#cdcdcd"/><rect x="12.3" y="53.3" width="4.14" height="4.14" fill="#c8c8c8"/><rect x="12.3" y="61.5" width="4.14" height="4.14" fill="#bababa"/><rect x="12.3" y="65.6" width="4.14" height="4.14" fill="#e8e8e8"/><rect x="12.3" y="69.7" width="4.14" height="4.14" fill="#e2e2e2"/><rect x="12.3" y="73.8" width="4.14" height="4.14" fill="#b1b1b1"/><rect x="12.3" y="77.9" width="4.14" height="4.14" fill="#f2f2f2"/><rect x="12.3" y="82.0" width="4.14" height="4.14" fill="#f6f6f6"/><rect x="12.3" y="86.1" width="4.14" height="4.14" fill="#e1e1e1"/><rect x="12.3" y="90.2" width="4.14" height="4.14" fill="#e9e9e9"/><rect x="16.4" y="0.0" width="4.14" height="4.14" fill="#f0f0f0"/><rect x="16.4" y="4.1" width="4.14" height="4.14" fill="#b9b9b9"/><rect x="16.4" y="8.2" width="4.14" height="4.14" fill="#d8d8d8"/><rect x="16.4" y="12.3" width="4.14" height="4.14" fill="#d7d7d7"/><rect x="16.4" y="16.4" width="4.14" height="4.14" fill="#f2f2f2"/><rect x="16.4" y="20.5" width="4.14" height="4.14" fill="#efefef"/><rect x="16.4" y="24.6" width="4.14" height="4.14" fill="#f1f1f1"/><rect x="16.4" y="28.7" width="4.14" height="4.14" fill="#dddddd"/><rect x="16.4" y="32.8" width="4.14" height="4.14" fill="#f6f6f6"/><rect x="16.4" y="36.9" width="4.14" height="4.14" fill="#e5e5e5"/><rect x="16.4" y="41.0" width="4.14" height="4.14" fill="#e6e6e6"/><rect x="16.4" y="45.1" width="4.14" height="4.14" fill="#c0c0c0"/><rect x="16.4" y="49.2" width="4.14" height="4.14" fill="#b0b0b0"/><rect x="16.4" y="53.3" width="4.14" height="4.14" fill="#b8b8b8"/><rect x="16.4" y="57.4" width="4.14" height="4.14" fill="#cbcbcb"/><rect x="16.4" y="61.5" width="4.14" height="4.14" fill="#b6b6b6"/><rect x="16.4" y="65.6" width="4.14" height="4.14" fill="#f2f2f2"/><rect x="16.4" y="69.7" width="4.14" height="4.14" fill="#dbdbdb"/><rect x="16.4" y="73.8" width="4.14" height="4.14" fill="#e1e1e1"/><rect x="16.4" y="77.9" width="4.14" height="4.14" fill="#e1e1e1"/><rect x="16.4" y="82.0" width="4.14" height="4.14" fill="#e5e5e5"/><rect x="16.4" y="86.1" width="4.14" height="4.14" fill="#d5d5d5"/><rect x="16.4" y="90.2" width="4.14" height="4.14" fill="#aeaeae"/><rect x="20.5" y="0.0" width="4.14" height="4.14" fill="#eeeeee"/><rect x="20.5" y="4.1" width="4.14" height="4.14" fill="#eaeaea"/><rect x="20.5" y="8.2" width="4.14" height="4.14" fill="#d6d6d6"/><rect x="20.5" y="12.3" width="4.14" height="4.14" fill="#d9d9d9"/><rect x="20.5" y="16.4" width="4.14" height="4.14" fill="#e3e3e3"/><rect x="20.5" y="20.5" width="4.14" height="4.14" fill="#b3b3b3"/><rect x="20.5" y="24.6" width="4.14" height="4.14" fill="#eaeaea"/><rect x="20.5" y="28.7" width="4.14" height="4.14" fill="#c2c2c2"/><rect x="20.5" y="32.8" width="4.14" height="4.14" fill="#b3b3b3"/><rect x="20.5" y="36.9" width="4.14" height="4.14" fill="#c3c3c3"/><rect x="20.5" y="41.0" width="4.14" height="4.14" fill="#e9e9e9"/><rect x="20.5" y="45.1" width="4.14" height="4.14" fill="#bebebe"/><rect x="20.5" y="49.2" width="4.14" height="4.14" fill="#eaeaea"/><rect x="20.5" y="57.4" width="4.14" height="4.14" fill="#d6d6d6"/><rect x="20.5" y="61.5" width="4.14" height="4.14" fill="#cdcdcd"/><rect x="20.5" y="65.6" width="4.14" height="4.14" fill="#d4d4d4"/><rect x="20.5" y="69.7" width="4.14" height="4.14" fill="#e5e5e5"/><rect x="20.5" y="73.8" width="4.14" height="4.14" fill="#ececec"/><rect x="20.5" y="77.9" width="4.14" height="4.14" fill="#e0e0e0"/><rect x="20.5" y="82.0" width="4.14" height="4.14" fill="#e2e2e2"/><rect x="20.5" y="86.1" width="4.14" height="4.14" fill="#b4b4b4"/><rect x="20.5" y="90.2" width="4.14" height="4.14" fill="#b9b9b9"/><rect x="24.6" y="0.0" width="4.14" height="4.14" fill="#c2c2c2"/><rect x="24.6" y="4.1" width="4.14" height="4.14" fill="#eaeaea"/><rect x="24.6" y="8.2" width="4.14" height="4.14" fill="#c6c6c6"/><rect x="24.6" y="12.3" width="4.14" height="4.14" fill="#dcdcdc"/><rect x="24.6" y="16.4" width="4.14" height="4.14" fill="#aeaeae"/><rect x="24.6" y="20.5" width="4.14" height="4.14" fill="#b2b2b2"/><rect x="24.6" y="24.6" width="4.14" height="4.14" fill="#c3c3c3"/><rect x="24.6" y="28.7" width="4.14" height="4.14" fill="#e4e4e4"/><rect x="24.6" y="32.8" width="4.14" height="4.14" fill="#e6e6e6"/><rect x="24.6" y="36.9" width="4.14" height="4.14" fill="#e5e5e5"/><rect x="24.6" y="41.0" width="4.14" height="4.14" fill="#c5c5c5"/><rect x="24.6" y="45.1" width="4.14" height="4.14" fill="#d8d8d8"/><rect x="24.6" y="49.2" width="4.14" height="4.14" fill="#d3d3d3"/><rect x="24.6" y="53.3" width="4.14" height="4.14" fill="#d3d3d3"/><rect x="24.6" y="57.4" width="4.14" height="4.14" fill="#b7b7b7"/><rect x="24.6" y="61.5" width="4.14" height="4.14" fill="#f6f6f6"/><rect x="24.6" y="65.6" width="4.14" height="4.14" fill="#bebebe"/><rect x="24.6" y="73.8" width="4.14" height="4.14" fill="#fafafa"/><rect x="24.6" y="77.9" width="4.14" height="4.14" fill="#afafaf"/><rect x="24.6" y="82.0" width="4.14" height="4.14" fill="#d3d3d3"/><rect x="24.6" y="86.1" width="4.14" height="4.14" fill="#f0f0f0"/><rect x="28.7" y="0.0" width="4.14" height="4.14" fill="#d2d2d2"/><rect x="28.7" y="4.1" width="4.14" height="4.14" fill="#c3c3c3"/><rect x="28.7" y="8.2" width="4.14" height="4.14" fill="#bfbfbf"/><rect x="28.7" y="12.3" width="4.14" height="4.14" fill="#fbfbfb"/><rect x="28.7" y="16.4" width="4.14" height="4.14" fill="#bfbfbf"/><rect x="28.7" y="20.5" width="4.14" height="4.14" fill="#dddddd"/><rect x="28.7" y="24.6" width="4.14" height="4.14" fill="#b9b9b9"/><rect x="28.7" y="28.7" width="4.14" height="4.14" fill="#d8d8d8"/><rect x="28.7" y="32.8" width="4.14" height="4.14" fill="#fbfbfb"/><rect x="28.7" y="36.9" width="4.14" height="4.14" fill="#b8b8b8"/><rect x="28.7" y="41.0" width="4.14" height="4.14" fill="#f0f0f0"/><rect x="28.7" y="45.1" width="4.14" height="4.14" fill="#d7d7d7"/><rect x="28.7" y="49.2" width="4.14" height="4.14" fill="#f6f6f6"/><rect x="28.7" y="53.3" width="4.14" height="4.14" fill="#e7e7e7"/><rect x="28.7" y="57.4" width="4.14" height="4.14" fill="#c0c0c0"/><rect x="28.7" y="61.5" width="4.14" height="4.14" fill="#f7f7f7"/><rect x="28.7" y="65.6" width="4.14" height="4.14" fill="#d5d5d5"/><rect x="28.7" y="69.7" width="4.14" height="4.14" fill="#afafaf"/><rect x="28.7" y="73.8" width="4.14" height="4.14" fill="#aeaeae"/><rect x="28.7" y="77.9" width="4.14" height="4.14" fill="#d6d6d6"/><rect x="28.7" y="82.0" width="4.14" height="4.14" fill="#d2d2d2"/><rect x="28.7" y="86.1" width="4.14" height="4.14" fill="#c6c6c6"/><rect x="28.7" y="90.2" width="4.14" height="4.14" fill="#b9b9b9"/><rect x="32.8" y="0.0" width="4.14" height="4.14" fill="#c9c9c9"/><rect x="32.8" y="4.1" width="4.14" height="4.14" fill="#c7c7c7"/><rect x="32.8" y="8.2" width="4.14" height="4.14" fill="#f2f2f2"/><rect x="32.8" y="12.3" width="4.14" height="4.14" fill="#aeaeae"/><rect x="32.8" y="16.4" width="4.14" height="4.14" fill="#ebebeb"/><rect x="32.8" y="20.5" width="4.14" height="4.14" fill="#f2f2f2"/><rect x="32.8" y="24.6" width="4.14" height="4.14" fill="#b7b7b7"/><rect x="32.8" y="28.7" width="4.14" height="4.14" fill="#f9f9f9"/><rect x="32.8" y="32.8" width="4.14" height="4.14" fill="#e8e8e8"/><rect x="32.8" y="36.9" width="4.14" height="4.14" fill="#f7f7f7"/><rect x="32.8" y="41.0" width="4.14" height="4.14" fill="#c5c5c5"/><rect x="32.8" y="45.1" width="4.14" height="4.14" fill="#cccccc"/><rect x="32.8" y="49.2" width="4.14" height="4.14" fill="#cdcdcd"/><rect x="32.8" y="57.4" width="4.14" height="4.14" fill="#dddddd"/><rect x="32.8" y="61.5" width="4.14" height="4.14" fill="#cbcbcb"/><rect x="32.8" y="65.6" width="4.14" height="4.14" fill="#d0d0d0"/><rect x="32.8" y="69.7" width="4.14" height="4.14" fill="#c4c4c4"/><rect x="32.8" y="73.8" width="4.14" height="4.14" fill="#b1b1b1"/><rect x="32.8" y="77.9" width="4.14" height="4.14" fill="#b6b6b6"/><rect x="32.8" y="82.0" width="4.14" height="4.14" fill="#f2f2f2"/><rect x="32.8" y="86.1" width="4.14" height="4.14" fill="#c5c5c5"/><rect x="32.8" y="90.2" width="4.14" height="4.14" fill="#fafafa"/><rect x="36.9" y="0.0" width="4.14" height="4.14" fill="#c2c2c2"/><rect x="36.9" y="4.1" width="4.14" height="4.14" fill="#c3c3c3"/><rect x="36.9" y="8.2" width="4.14" height="4.14" fill="#d7d7d7"/><rect x="36.9" y="12.3" width="4.14" height="4.14" fill="#bdbdbd"/><rect x="36.9" y="16.4" width="4.14" height="4.14" fill="#cccccc"/><rect x="36.9" y="24.6" width="4.14" height="4.14" fill="#f6f6f6"/><rect x="36.9" y="28.7" width="4.14" height="4.14" fill="#f0f0f0"/><rect x="36.9" y="32.8" width="4.14" height="4.14" fill="#e1e1e1"/><rect x="36.9" y="36.9" width="4.14" height="4.14" fill="#f8f8f8"/><rect x="36.9" y="41.0" width="4.14" height="4.14" fill="#fafafa"/><rect x="36.9" y="45.1" width="4.14" height="4.14" fill="#dadada"/><rect x="36.9" y="49.2" width="4.14" height="4.14" fill="#e8e8e8"/><rect x="36.9" y="53.3" width="4.14" height="4.14" fill="#b1b1b1"/><rect x="36.9" y="57.4" width="4.14" height="4.14" fill="#e9e9e9"/><rect x="36.9" y="61.5" width="4.14" height="4.14" fill="#d2d2d2"/><rect x="36.9" y="65.6" width="4.14" height="4.14" fill="#ebebeb"/><rect x="36.9" y="69.7" width="4.14" height="4.14" fill="#e2e2e2"/><rect x="36.9" y="73.8" width="4.14" height="4.14" fill="#c5c5c5"/><rect x="36.9" y="77.9" width="4.14" height="4.14" fill="#b1b1b1"/><rect x="36.9" y="82.0" width="4.14" height="4.14" fill="#f9f9f9"/><rect x="36.9" y="86.1" width="4.14" height="4.14" fill="#b8b8b8"/><rect x="36.9" y="90.2" width="4.14" height="4.14" fill="#d4d4d4"/><rect x="41.0" y="0.0" width="4.14" height="4.14" fill="#c9c9c9"/><rect x="41.0" y="4.1" width="4.14" height="4.14" fill="#c6c6c6"/><rect x="41.0" y="8.2" width="4.14" height="4.14" fill="#eaeaea"/><rect x="41.0" y="16.4" width="4.14" height="4.14" fill="#c3c3c3"/><rect x="41.0" y="20.5" width="4.14" height="4.14" fill="#e3e3e3"/><rect x="41.0" y="24.6" width="4.14" height="4.14" fill="#c6c6c6"/><rect x="41.0" y="28.7" width="4.14" height="4.14" fill="#dbdbdb"/><rect x="41.0" y="32.8" width="4.14" height="4.14" fill="#cecece"/><rect x="41.0" y="36.9" width="4.14" height="4.14" fill="#bbbbbb"/><rect x="41.0" y="41.0" width="4.14" height="4.14" fill="#bbbbbb"/><rect x="41.0" y="45.1" width="4.14" height="4.14" fill="#bebebe"/><rect x="41.0" y="49.2" width="4.14" height="4.14" fill="#f7f7f7"/><rect x="41.0" y="53.3" width="4.14" height="4.14" fill="#d6d6d6"/><rect x="41.0" y="57.4" width="4.14" height="4.14" fill="#bfbfbf"/><rect x="41.0" y="61.5" width="4.14" height="4.14" fill="#f7f7f7"/><rect x="41.0" y="69.7" width="4.14" height="4.14" fill="#d2d2d2"/><rect x="41.0" y="73.8" width="4.14" height="4.14" fill="#b9b9b9"/><rect x="41.0" y="77.9" width="4.14" height="4.14" fill="#bdbdbd"/><rect x="41.0" y="82.0" width="4.14" height="4.14" fill="#b5b5b5"/><rect x="41.0" y="86.1" width="4.14" height="4.14" fill="#c9c9c9"/><rect x="41.0" y="90.2" width="4.14" height="4.14" fill="#b5b5b5"/><rect x="45.1" y="0.0" width="4.14" height="4.14" fill="#c1c1c1"/><rect x="45.1" y="4.1" width="4.14" height="4.14" fill="#c2c2c2"/><rect x="45.1" y="8.2" width="4.14" height="4.14" fill="#dcdcdc"/><rect x="45.1" y="12.3" width="4.14" height="4.14" fill="#f6f6f6"/><rect x="45.1" y="16.4" width="4.14" height="4.14" fill="#ebebeb"/><rect x="45.1" y="20.5" width="4.14" height="4.14" fill="#cfcfcf"/><rect x="45.1" y="24.6" width="4.14" height="4.14" fill="#cfcfcf"/><rect x="45.1" y="28.7" width="4.14" height="4.14" fill="#d8d8d8"/><rect x="45.1" y="32.8" width="4.14" height="4.14" fill="#cccccc"/><rect x="45.1" y="36.9" width="4.14" height="4.14" fill="#c9c9c9"/><rect x="45.1" y="41.0" width="4.14" height="4.14" fill="#b2b2b2"/><rect x="45.1" y="45.1" width="4.14" height="4.14" fill="#c4c4c4"/><rect x="45.1" y="53.3" width="4.14" height="4.14" fill="#b8b8b8"/><rect x="45.1" y="57.4" width="4.14" height="4.14" fill="#d6d6d6"/><rect x="45.1" y="61.5" width="4.14" height="4.14" fill="#e1e1e1"/><rect x="45.1" y="65.6" width="4.14" height="4.14" fill="#f4f4f4"/><rect x="45.1" y="69.7" width="4.14" height="4.14" fill="#bfbfbf"/><rect x="45.1" y="73.8" width="4.14" height="4.14" fill="#c4c4c4"/><rect x="45.1" y="77.9" width="4.14" height="4.14" fill="#c2c2c2"/><rect x="45.1" y="82.0" width="4.14" height="4.14" fill="#cecece"/><rect x="45.1" y="86.1" width="4.14" height="4.14" fill="#d2d2d2"/><rect x="49.2" y="0.0" width="4.14" height="4.14" fill="#f3f3f3"/><rect x="49.2" y="4.1" width="4.14" height="4.14" fill="#f5f5f5"/><rect x="49.2" y="8.2" width="4.14" height="4.14" fill="#afafaf"/><rect x="49.2" y="12.3" width="4.14" height="4.14" fill="#b0b0b0"/><rect x="49.2" y="16.4" width="4.14" height="4.14" fill="#e7e7e7"/><rect x="49.2" y="20.5" width="4.14" height="4.14" fill="#f6f6f6"/><rect x="49.2" y="24.6" width="4.14" height="4.14" fill="#d4d4d4"/><rect x="49.2" y="28.7" width="4.14" height="4.14" fill="#dddddd"/><rect x="49.2" y="32.8" width="4.14" height="4.14" fill="#adadad"/><rect x="49.2" y="36.9" width="4.14" height="4.14" fill="#cdcdcd"/><rect x="49.2" y="41.0" width="4.14" height="4.14" fill="#f9f9f9"/><rect x="49.2" y="45.1" width="4.14" height="4.14" fill="#f1f1f1"/><rect x="49.2" y="49.2" width="4.14" height="4.14" fill="#f3f3f3"/><rect x="49.2" y="57.4" width="4.14" height="4.14" fill="#c2c2c2"/><rect x="49.2" y="61.5" width="4.14" height="4.14" fill="#b6b6b6"/><rect x="49.2" y="65.6" width="4.14" height="4.14" fill="#bababa"/><rect x="49.2" y="69.7" width="4.14" height="4.14" fill="#d8d8d8"/><rect x="49.2" y="73.8" width="4.14" height="4.14" fill="#e5e5e5"/><rect x="49.2" y="77.9" width="4.14" height="4.14" fill="#fafafa"/><rect x="49.2" y="82.0" width="4.14" height="4.14" fill="#e8e8e8"/><rect x="49.2" y="86.1" width="4.14" height="4.14" fill="#e2e2e2"/><rect x="49.2" y="90.2" width="4.14" height="4.14" fill="#ececec"/><rect x="53.3" y="0.0" width="4.14" height="4.14" fill="#d3d3d3"/><rect x="53.3" y="4.1" width="4.14" height="4.14" fill="#dadada"/><rect x="53.3" y="8.2" width="4.14" height="4.14" fill="#b1b1b1"/><rect x="53.3" y="12.3" width="4.14" height="4.14" fill="#ededed"/><rect x="53.3" y="16.4" width="4.14" height="4.14" fill="#c0c0c0"/><rect x="53.3" y="20.5" width="4.14" height="4.14" fill="#f8f8f8"/><rect x="53.3" y="24.6" width="4.14" height="4.14" fill="#e2e2e2"/><rect x="53.3" y="28.7" width="4.14" height="4.14" fill="#c6c6c6"/><rect x="53.3" y="32.8" width="4.14" height="4.14" fill="#b8b8b8"/><rect x="53.3" y="36.9" width="4.14" height="4.14" fill="#c2c2c2"/><rect x="53.3" y="41.0" width="4.14" height="4.14" fill="#e1e1e1"/><rect x="53.3" y="45.1" width="4.14" height="4.14" fill="#e6e6e6"/><rect x="53.3" y="49.2" width="4.14" height="4.14" fill="#b7b7b7"/><rect x="53.3" y="53.3" width="4.14" height="4.14" fill="#b3b3b3"/><rect x="53.3" y="57.4" width="4.14" height="4.14" fill="#d8d8d8"/><rect x="53.3" y="61.5" width="4.14" height="4.14" fill="#dddddd"/><rect x="53.3" y="65.6" width="4.14" height="4.14" fill="#cdcdcd"/><rect x="53.3" y="69.7" width="4.14" height="4.14" fill="#c0c0c0"/><rect x="53.3" y="73.8" width="4.14" height="4.14" fill="#dedede"/><rect x="53.3" y="77.9" width="4.14" height="4.14" fill="#aeaeae"/><rect x="53.3" y="82.0" width="4.14" height="4.14" fill="#c6c6c6"/><rect x="53.3" y="86.1" width="4.14" height="4.14" fill="#d3d3d3"/><rect x="57.4" y="0.0" width="4.14" height="4.14" fill="#e2e2e2"/><rect x="57.4" y="4.1" width="4.14" height="4.14" fill="#f6f6f6"/><rect x="57.4" y="8.2" width="4.14" height="4.14" fill="#d4d4d4"/><rect x="57.4" y="12.3" width="4.14" height="4.14" fill="#c1c1c1"/><rect x="57.4" y="16.4" width="4.14" height="4.14" fill="#c2c2c2"/><rect x="57.4" y="24.6" width="4.14" height="4.14" fill="#e7e7e7"/><rect x="57.4" y="28.7" width="4.14" height="4.14" fill="#c6c6c6"/><rect x="57.4" y="32.8" width="4.14" height="4.14" fill="#afafaf"/><rect x="57.4" y="36.9" width="4.14" height="4.14" fill="#d6d6d6"/><rect x="57.4" y="41.0" width="4.14" height="4.14" fill="#e4e4e4"/><rect x="57.4" y="45.1" width="4.14" height="4.14" fill="#d0d0d0"/><rect x="57.4" y="49.2" width="4.14" height="4.14" fill="#c2c2c2"/><rect x="57.4" y="53.3" width="4.14" height="4.14" fill="#e4e4e4"/><rect x="57.4" y="57.4" width="4.14" height="4.14" fill="#f9f9f9"/><rect x="57.4" y="61.5" width="4.14" height="4.14" fill="#c0c0c0"/><rect x="57.4" y="65.6" width="4.14" height="4.14" fill="#b0b0b0"/><rect x="57.4" y="69.7" width="4.14" height="4.14" fill="#c9c9c9"/><rect x="57.4" y="73.8" width="4.14" height="4.14" fill="#d0d0d0"/><rect x="57.4" y="77.9" width="4.14" height="4.14" fill="#e5e5e5"/><rect x="57.4" y="82.0" width="4.14" height="4.14" fill="#bebebe"/><rect x="57.4" y="86.1" width="4.14" height="4.14" fill="#eeeeee"/><rect x="57.4" y="90.2" width="4.14" height="4.14" fill="#eaeaea"/><rect x="61.5" y="0.0" width="4.14" height="4.14" fill="#d7d7d7"/><rect x="61.5" y="4.1" width="4.14" height="4.14" fill="#bebebe"/><rect x="61.5" y="12.3" width="4.14" height="4.14" fill="#c7c7c7"/><rect x="61.5" y="16.4" width="4.14" height="4.14" fill="#f0f0f0"/><rect x="61.5" y="20.5" width="4.14" height="4.14" fill="#c0c0c0"/><rect x="61.5" y="24.6" width="4.14" height="4.14" fill="#bfbfbf"/><rect x="61.5" y="28.7" width="4.14" height="4.14" fill="#ebebeb"/><rect x="61.5" y="32.8" width="4.14" height="4.14" fill="#c5c5c5"/><rect x="61.5" y="36.9" width="4.14" height="4.14" fill="#fbfbfb"/><rect x="61.5" y="41.0" width="4.14" height="4.14" fill="#d6d6d6"/><rect x="61.5" y="45.1" width="4.14" height="4.14" fill="#bdbdbd"/><rect x="61.5" y="49.2" width="4.14" height="4.14" fill="#c0c0c0"/><rect x="61.5" y="53.3" width="4.14" height="4.14" fill="#cfcfcf"/><rect x="61.5" y="57.4" width="4.14" height="4.14" fill="#e4e4e4"/><rect x="61.5" y="61.5" width="4.14" height="4.14" fill="#fbfbfb"/><rect x="61.5" y="65.6" width="4.14" height="4.14" fill="#b9b9b9"/><rect x="61.5" y="69.7" width="4.14" height="4.14" fill="#cecece"/><rect x="61.5" y="73.8" width="4.14" height="4.14" fill="#bfbfbf"/><rect x="61.5" y="82.0" width="4.14" height="4.14" fill="#b9b9b9"/><rect x="61.5" y="86.1" width="4.14" height="4.14" fill="#b2b2b2"/><rect x="61.5" y="90.2" width="4.14" height="4.14" fill="#b2b2b2"/><rect x="65.6" y="0.0" width="4.14" height="4.14" fill="#cdcdcd"/><rect x="65.6" y="4.1" width="4.14" height="4.14" fill="#f7f7f7"/><rect x="65.6" y="8.2" width="4.14" height="4.14" fill="#f6f6f6"/><rect x="65.6" y="12.3" width="4.14" height="4.14" fill="#e9e9e9"/><rect x="65.6" y="20.5" width="4.14" height="4.14" fill="#f9f9f9"/><rect x="65.6" y="24.6" width="4.14" height="4.14" fill="#c8c8c8"/><rect x="65.6" y="28.7" width="4.14" height="4.14" fill="#bdbdbd"/><rect x="65.6" y="32.8" width="4.14" height="4.14" fill="#fafafa"/><rect x="65.6" y="36.9" width="4.14" height="4.14" fill="#eaeaea"/><rect x="65.6" y="41.0" width="4.14" height="4.14" fill="#b0b0b0"/><rect x="65.6" y="45.1" width="4.14" height="4.14" fill="#e4e4e4"/><rect x="65.6" y="49.2" width="4.14" height="4.14" fill="#cccccc"/><rect x="65.6" y="53.3" width="4.14" height="4.14" fill="#cccccc"/><rect x="65.6" y="57.4" width="4.14" height="4.14" fill="#c8c8c8"/><rect x="65.6" y="61.5" width="4.14" height="4.14" fill="#bbbbbb"/><rect x="65.6" y="65.6" width="4.14" height="4.14" fill="#aeaeae"/><rect x="65.6" y="69.7" width="4.14" height="4.14" fill="#c4c4c4"/><rect x="65.6" y="73.8" width="4.14" height="4.14" fill="#cacaca"/><rect x="65.6" y="82.0" width="4.14" height="4.14" fill="#b7b7b7"/><rect x="65.6" y="90.2" width="4.14" height="4.14" fill="#bebebe"/><rect x="69.7" y="0.0" width="4.14" height="4.14" fill="#cbcbcb"/><rect x="69.7" y="4.1" width="4.14" height="4.14" fill="#f0f0f0"/><rect x="69.7" y="8.2" width="4.14" height="4.14" fill="#f0f0f0"/><rect x="69.7" y="12.3" width="4.14" height="4.14" fill="#d1d1d1"/><rect x="69.7" y="16.4" width="4.14" height="4.14" fill="#b1b1b1"/><rect x="69.7" y="20.5" width="4.14" height="4.14" fill="#d4d4d4"/><rect x="69.7" y="24.6" width="4.14" height="4.14" fill="#cccccc"/><rect x="69.7" y="28.7" width="4.14" height="4.14" fill="#f8f8f8"/><rect x="69.7" y="32.8" width="4.14" height="4.14" fill="#bdbdbd"/><rect x="69.7" y="36.9" width="4.14" height="4.14" fill="#cbcbcb"/><rect x="69.7" y="41.0" width="4.14" height="4.14" fill="#f7f7f7"/><rect x="69.7" y="45.1" width="4.14" height="4.14" fill="#b0b0b0"/><rect x="69.7" y="49.2" width="4.14" height="4.14" fill="#cfcfcf"/><rect x="69.7" y="53.3" width="4.14" height="4.14" fill="#f0f0f0"/><rect x="69.7" y="57.4" width="4.14" height="4.14" fill="#ececec"/><rect x="69.7" y="61.5" width="4.14" height="4.14" fill="#b1b1b1"/><rect x="69.7" y="65.6" width="4.14" height="4.14" fill="#b0b0b0"/><rect x="69.7" y="69.7" width="4.14" height="4.14" fill="#b3b3b3"/><rect x="69.7" y="73.8" width="4.14" height="4.14" fill="#f8f8f8"/><rect x="69.7" y="77.9" width="4.14" height="4.14" fill="#c2c2c2"/><rect x="69.7" y="82.0" width="4.14" height="4.14" fill="#eaeaea"/><rect x="69.7" y="86.1" width="4.14" height="4.14" fill="#f7f7f7"/><rect x="69.7" y="90.2" width="4.14" height="4.14" fill="#c9c9c9"/><rect x="73.8" y="0.0" width="4.14" height="4.14" fill="#c4c4c4"/><rect x="73.8" y="8.2" width="4.14" height="4.14" fill="#e0e0e0"/><rect x="73.8" y="12.3" width="4.14" height="4.14" fill="#c3c3c3"/><rect x="73.8" y="16.4" width="4.14" height="4.14" fill="#e8e8e8"/><rect x="73.8" y="20.5" width="4.14" height="4.14" fill="#c7c7c7"/><rect x="73.8" y="24.6" width="4.14" height="4.14" fill="#c4c4c4"/><rect x="73.8" y="28.7" width="4.14" height="4.14" fill="#aeaeae"/><rect x="73.8" y="32.8" width="4.14" height="4.14" fill="#ebebeb"/><rect x="73.8" y="36.9" width="4.14" height="4.14" fill="#f8f8f8"/><rect x="73.8" y="41.0" width="4.14" height="4.14" fill="#e1e1e1"/><rect x="73.8" y="45.1" width="4.14" height="4.14" fill="#fafafa"/><rect x="73.8" y="49.2" width="4.14" height="4.14" fill="#afafaf"/><rect x="73.8" y="53.3" width="4.14" height="4.14" fill="#c0c0c0"/><rect x="73.8" y="57.4" width="4.14" height="4.14" fill="#d4d4d4"/><rect x="73.8" y="69.7" width="4.14" height="4.14" fill="#cdcdcd"/><rect x="73.8" y="73.8" width="4.14" height="4.14" fill="#c2c2c2"/><rect x="73.8" y="77.9" width="4.14" height="4.14" fill="#d0d0d0"/><rect x="73.8" y="82.0" width="4.14" height="4.14" fill="#d6d6d6"/><rect x="73.8" y="86.1" width="4.14" height="4.14" fill="#f9f9f9"/><rect x="73.8" y="90.2" width="4.14" height="4.14" fill="#bcbcbc"/><rect x="77.9" y="0.0" width="4.14" height="4.14" fill="#efefef"/><rect x="77.9" y="4.1" width="4.14" height="4.14" fill="#eaeaea"/><rect x="77.9" y="8.2" width="4.14" height="4.14" fill="#f1f1f1"/><rect x="77.9" y="12.3" width="4.14" height="4.14" fill="#ececec"/><rect x="77.9" y="16.4" width="4.14" height="4.14" fill="#dfdfdf"/><rect x="77.9" y="20.5" width="4.14" height="4.14" fill="#c8c8c8"/><rect x="77.9" y="24.6" width="4.14" height="4.14" fill="#c7c7c7"/><rect x="77.9" y="28.7" width="4.14" height="4.14" fill="#cbcbcb"/><rect x="77.9" y="32.8" width="4.14" height="4.14" fill="#ededed"/><rect x="77.9" y="36.9" width="4.14" height="4.14" fill="#b4b4b4"/><rect x="77.9" y="41.0" width="4.14" height="4.14" fill="#bebebe"/><rect x="77.9" y="45.1" width="4.14" height="4.14" fill="#ebebeb"/><rect x="77.9" y="49.2" width="4.14" height="4.14" fill="#c2c2c2"/><rect x="77.9" y="53.3" width="4.14" height="4.14" fill="#b3b3b3"/><rect x="77.9" y="57.4" width="4.14" height="4.14" fill="#b0b0b0"/><rect x="77.9" y="61.5" width="4.14" height="4.14" fill="#dadada"/><rect x="77.9" y="65.6" width="4.14" height="4.14" fill="#c8c8c8"/><rect x="77.9" y="73.8" width="4.14" height="4.14" fill="#f5f5f5"/><rect x="77.9" y="82.0" width="4.14" height="4.14" fill="#c3c3c3"/><rect x="77.9" y="86.1" width="4.14" height="4.14" fill="#b4b4b4"/><rect x="77.9" y="90.2" width="4.14" height="4.14" fill="#b5b5b5"/><rect x="82.0" y="0.0" width="4.14" height="4.14" fill="#d6d6d6"/><rect x="82.0" y="4.1" width="4.14" height="4.14" fill="#e7e7e7"/><rect x="82.0" y="8.2" width="4.14" height="4.14" fill="#d2d2d2"/><rect x="82.0" y="12.3" width="4.14" height="4.14" fill="#c1c1c1"/><rect x="82.0" y="16.4" width="4.14" height="4.14" fill="#cfcfcf"/><rect x="82.0" y="20.5" width="4.14" height="4.14" fill="#e0e0e0"/><rect x="82.0" y="24.6" width="4.14" height="4.14" fill="#e4e4e4"/><rect x="82.0" y="28.7" width="4.14" height="4.14" fill="#eaeaea"/><rect x="82.0" y="32.8" width="4.14" height="4.14" fill="#f3f3f3"/><rect x="82.0" y="36.9" width="4.14" height="4.14" fill="#e4e4e4"/><rect x="82.0" y="41.0" width="4.14" height="4.14" fill="#b7b7b7"/><rect x="82.0" y="45.1" width="4.14" height="4.14" fill="#f2f2f2"/><rect x="82.0" y="49.2" width="4.14" height="4.14" fill="#c5c5c5"/><rect x="82.0" y="53.3" width="4.14" height="4.14" fill="#dcdcdc"/><rect x="82.0" y="57.4" width="4.14" height="4.14" fill="#cccccc"/><rect x="82.0" y="61.5" width="4.14" height="4.14" fill="#eaeaea"/><rect x="82.0" y="65.6" width="4.14" height="4.14" fill="#bebebe"/><rect x="82.0" y="69.7" width="4.14" height="4.14" fill="#c2c2c2"/><rect x="82.0" y="73.8" width="4.14" height="4.14" fill="#c1c1c1"/><rect x="82.0" y="77.9" width="4.14" height="4.14" fill="#bababa"/><rect x="82.0" y="82.0" width="4.14" height="4.14" fill="#f6f6f6"/><rect x="82.0" y="86.1" width="4.14" height="4.14" fill="#dddddd"/><rect x="82.0" y="90.2" width="4.14" height="4.14" fill="#c8c8c8"/><rect x="86.1" y="0.0" width="4.14" height="4.14" fill="#cecece"/><rect x="86.1" y="8.2" width="4.14" height="4.14" fill="#d7d7d7"/><rect x="86.1" y="12.3" width="4.14" height="4.14" fill="#c0c0c0"/><rect x="86.1" y="16.4" width="4.14" height="4.14" fill="#efefef"/><rect x="86.1" y="20.5" width="4.14" height="4.14" fill="#e3e3e3"/><rect x="86.1" y="28.7" width="4.14" height="4.14" fill="#b6b6b6"/><rect x="86.1" y="32.8" width="4.14" height="4.14" fill="#d4d4d4"/><rect x="86.1" y="36.9" width="4.14" height="4.14" fill="#f0f0f0"/><rect x="86.1" y="41.0" width="4.14" height="4.14" fill="#f2f2f2"/><rect x="86.1" y="45.1" width="4.14" height="4.14" fill="#f8f8f8"/><rect x="86.1" y="49.2" width="4.14" height="4.14" fill="#b1b1b1"/><rect x="86.1" y="53.3" width="4.14" height="4.14" fill="#c5c5c5"/><rect x="86.1" y="57.4" width="4.14" height="4.14" fill="#b7b7b7"/><rect x="86.1" y="61.5" width="4.14" height="4.14" fill="#bdbdbd"/><rect x="86.1" y="69.7" width="4.14" height="4.14" fill="#dddddd"/><rect x="86.1" y="73.8" width="4.14" height="4.14" fill="#f9f9f9"/><rect x="86.1" y="77.9" width="4.14" height="4.14" fill="#cccccc"/><rect x="86.1" y="82.0" width="4.14" height="4.14" fill="#f4f4f4"/><rect x="86.1" y="86.1" width="4.14" height="4.14" fill="#d2d2d2"/><rect x="86.1" y="90.2" width="4.14" height="4.14" fill="#c3c3c3"/><rect x="90.2" y="0.0" width="4.14" height="4.14" fill="#ededed"/><rect x="90.2" y="4.1" width="4.14" height="4.14" fill="#fbfbfb"/><rect x="90.2" y="8.2" width="4.14" height="4.14" fill="#b6b6b6"/><rect x="90.2" y="12.3" width="4.14" height="4.14" fill="#dedede"/><rect x="90.2" y="16.4" width="4.14" height="4.14" fill="#e0e0e0"/><rect x="90.2" y="20.5" width="4.14" height="4.14" fill="#bfbfbf"/><rect x="90.2" y="24.6" width="4.14" height="4.14" fill="#cbcbcb"/><rect x="90.2" y="28.7" width="4.14" height="4.14" fill="#b9b9b9"/><rect x="90.2" y="32.8" width="4.14" height="4.14" fill="#bebebe"/><rect x="90.2" y="36.9" width="4.14" height="4.14" fill="#c2c2c2"/><rect x="90.2" y="41.0" width="4.14" height="4.14" fill="#dedede"/><rect x="90.2" y="45.1" width="4.14" height="4.14" fill="#e3e3e3"/><rect x="90.2" y="49.2" width="4.14" height="4.14" fill="#bebebe"/><rect x="90.2" y="53.3" width="4.14" height="4.14" fill="#aeaeae"/><rect x="90.2" y="57.4" width="4.14" height="4.14" fill="#c8c8c8"/><rect x="90.2" y="61.5" width="4.14" height="4.14" fill="#e5e5e5"/><rect x="90.2" y="65.6" width="4.14" height="4.14" fill="#bdbdbd"/><rect x="90.2" y="69.7" width="4.14" height="4.14" fill="#c7c7c7"/><rect x="90.2" y="73.8" width="4.14" height="4.14" fill="#bebebe"/><rect x="90.2" y="77.9" width="4.14" height="4.14" fill="#eeeeee"/><rect x="90.2" y="82.0" width="4.14" height="4.14" fill="#dadada"/><rect x="90.2" y="86.1" width="4.14" height="4.14" fill="#b3b3b3"/><rect x="90.2" y="90.2" width="4.14" height="4.14" fill="#b6b6b6"/></pattern>
<pattern id="nzC" x="0" y="0" width="96.2" height="96.2" patternUnits="userSpaceOnUse"><rect width="96.2" height="96.2" fill="#fff"/><rect x="0.0" y="0.0" width="7.44" height="7.44" fill="#d7d7d7"/><rect x="0.0" y="7.4" width="7.44" height="7.44" fill="#e1e1e1"/><rect x="0.0" y="14.8" width="7.44" height="7.44" fill="#e7e7e7"/><rect x="0.0" y="22.2" width="7.44" height="7.44" fill="#c3c3c3"/><rect x="0.0" y="29.6" width="7.44" height="7.44" fill="#c8c8c8"/><rect x="0.0" y="37.0" width="7.44" height="7.44" fill="#ebebeb"/><rect x="0.0" y="44.4" width="7.44" height="7.44" fill="#d8d8d8"/><rect x="0.0" y="51.8" width="7.44" height="7.44" fill="#cfcfcf"/><rect x="0.0" y="59.2" width="7.44" height="7.44" fill="#d1d1d1"/><rect x="0.0" y="74.0" width="7.44" height="7.44" fill="#d1d1d1"/><rect x="0.0" y="81.4" width="7.44" height="7.44" fill="#e2e2e2"/><rect x="0.0" y="88.8" width="7.44" height="7.44" fill="#d4d4d4"/><rect x="7.4" y="0.0" width="7.44" height="7.44" fill="#d8d8d8"/><rect x="7.4" y="7.4" width="7.44" height="7.44" fill="#f6f6f6"/><rect x="7.4" y="22.2" width="7.44" height="7.44" fill="#d5d5d5"/><rect x="7.4" y="29.6" width="7.44" height="7.44" fill="#cacaca"/><rect x="7.4" y="37.0" width="7.44" height="7.44" fill="#ededed"/><rect x="7.4" y="44.4" width="7.44" height="7.44" fill="#cacaca"/><rect x="7.4" y="51.8" width="7.44" height="7.44" fill="#bdbdbd"/><rect x="7.4" y="59.2" width="7.44" height="7.44" fill="#f8f8f8"/><rect x="7.4" y="66.6" width="7.44" height="7.44" fill="#d9d9d9"/><rect x="7.4" y="74.0" width="7.44" height="7.44" fill="#f3f3f3"/><rect x="7.4" y="81.4" width="7.44" height="7.44" fill="#d8d8d8"/><rect x="7.4" y="88.8" width="7.44" height="7.44" fill="#f7f7f7"/><rect x="14.8" y="0.0" width="7.44" height="7.44" fill="#dbdbdb"/><rect x="14.8" y="7.4" width="7.44" height="7.44" fill="#c7c7c7"/><rect x="14.8" y="14.8" width="7.44" height="7.44" fill="#bebebe"/><rect x="14.8" y="22.2" width="7.44" height="7.44" fill="#e1e1e1"/><rect x="14.8" y="29.6" width="7.44" height="7.44" fill="#e7e7e7"/><rect x="14.8" y="37.0" width="7.44" height="7.44" fill="#f9f9f9"/><rect x="14.8" y="44.4" width="7.44" height="7.44" fill="#c3c3c3"/><rect x="14.8" y="51.8" width="7.44" height="7.44" fill="#e6e6e6"/><rect x="14.8" y="59.2" width="7.44" height="7.44" fill="#d5d5d5"/><rect x="14.8" y="66.6" width="7.44" height="7.44" fill="#dedede"/><rect x="14.8" y="74.0" width="7.44" height="7.44" fill="#c6c6c6"/><rect x="14.8" y="81.4" width="7.44" height="7.44" fill="#cfcfcf"/><rect x="14.8" y="88.8" width="7.44" height="7.44" fill="#dfdfdf"/><rect x="22.2" y="0.0" width="7.44" height="7.44" fill="#fafafa"/><rect x="22.2" y="7.4" width="7.44" height="7.44" fill="#c4c4c4"/><rect x="22.2" y="14.8" width="7.44" height="7.44" fill="#dddddd"/><rect x="22.2" y="22.2" width="7.44" height="7.44" fill="#f2f2f2"/><rect x="22.2" y="37.0" width="7.44" height="7.44" fill="#cacaca"/><rect x="22.2" y="44.4" width="7.44" height="7.44" fill="#c5c5c5"/><rect x="22.2" y="66.6" width="7.44" height="7.44" fill="#dddddd"/><rect x="22.2" y="74.0" width="7.44" height="7.44" fill="#c0c0c0"/><rect x="22.2" y="81.4" width="7.44" height="7.44" fill="#fafafa"/><rect x="22.2" y="88.8" width="7.44" height="7.44" fill="#d6d6d6"/><rect x="29.6" y="0.0" width="7.44" height="7.44" fill="#f9f9f9"/><rect x="29.6" y="7.4" width="7.44" height="7.44" fill="#e6e6e6"/><rect x="29.6" y="14.8" width="7.44" height="7.44" fill="#f3f3f3"/><rect x="29.6" y="22.2" width="7.44" height="7.44" fill="#c7c7c7"/><rect x="29.6" y="29.6" width="7.44" height="7.44" fill="#f1f1f1"/><rect x="29.6" y="37.0" width="7.44" height="7.44" fill="#cbcbcb"/><rect x="29.6" y="44.4" width="7.44" height="7.44" fill="#d8d8d8"/><rect x="29.6" y="51.8" width="7.44" height="7.44" fill="#f5f5f5"/><rect x="29.6" y="59.2" width="7.44" height="7.44" fill="#f4f4f4"/><rect x="29.6" y="66.6" width="7.44" height="7.44" fill="#c9c9c9"/><rect x="29.6" y="74.0" width="7.44" height="7.44" fill="#cbcbcb"/><rect x="29.6" y="81.4" width="7.44" height="7.44" fill="#d7d7d7"/><rect x="29.6" y="88.8" width="7.44" height="7.44" fill="#dfdfdf"/><rect x="37.0" y="0.0" width="7.44" height="7.44" fill="#d6d6d6"/><rect x="37.0" y="7.4" width="7.44" height="7.44" fill="#c5c5c5"/><rect x="37.0" y="14.8" width="7.44" height="7.44" fill="#cdcdcd"/><rect x="37.0" y="22.2" width="7.44" height="7.44" fill="#ededed"/><rect x="37.0" y="29.6" width="7.44" height="7.44" fill="#f8f8f8"/><rect x="37.0" y="37.0" width="7.44" height="7.44" fill="#bfbfbf"/><rect x="37.0" y="44.4" width="7.44" height="7.44" fill="#e2e2e2"/><rect x="37.0" y="51.8" width="7.44" height="7.44" fill="#efefef"/><rect x="37.0" y="59.2" width="7.44" height="7.44" fill="#bfbfbf"/><rect x="37.0" y="66.6" width="7.44" height="7.44" fill="#f4f4f4"/><rect x="37.0" y="74.0" width="7.44" height="7.44" fill="#c5c5c5"/><rect x="37.0" y="81.4" width="7.44" height="7.44" fill="#e4e4e4"/><rect x="37.0" y="88.8" width="7.44" height="7.44" fill="#e1e1e1"/><rect x="44.4" y="0.0" width="7.44" height="7.44" fill="#e6e6e6"/><rect x="44.4" y="7.4" width="7.44" height="7.44" fill="#d1d1d1"/><rect x="44.4" y="14.8" width="7.44" height="7.44" fill="#d9d9d9"/><rect x="44.4" y="22.2" width="7.44" height="7.44" fill="#e3e3e3"/><rect x="44.4" y="29.6" width="7.44" height="7.44" fill="#d9d9d9"/><rect x="44.4" y="37.0" width="7.44" height="7.44" fill="#e8e8e8"/><rect x="44.4" y="44.4" width="7.44" height="7.44" fill="#dadada"/><rect x="44.4" y="51.8" width="7.44" height="7.44" fill="#dadada"/><rect x="44.4" y="59.2" width="7.44" height="7.44" fill="#bebebe"/><rect x="44.4" y="66.6" width="7.44" height="7.44" fill="#e6e6e6"/><rect x="44.4" y="74.0" width="7.44" height="7.44" fill="#dddddd"/><rect x="44.4" y="81.4" width="7.44" height="7.44" fill="#cccccc"/><rect x="44.4" y="88.8" width="7.44" height="7.44" fill="#efefef"/><rect x="51.8" y="0.0" width="7.44" height="7.44" fill="#f0f0f0"/><rect x="51.8" y="7.4" width="7.44" height="7.44" fill="#dbdbdb"/><rect x="51.8" y="14.8" width="7.44" height="7.44" fill="#c9c9c9"/><rect x="51.8" y="22.2" width="7.44" height="7.44" fill="#dcdcdc"/><rect x="51.8" y="29.6" width="7.44" height="7.44" fill="#c4c4c4"/><rect x="51.8" y="37.0" width="7.44" height="7.44" fill="#c5c5c5"/><rect x="51.8" y="44.4" width="7.44" height="7.44" fill="#d9d9d9"/><rect x="51.8" y="51.8" width="7.44" height="7.44" fill="#c3c3c3"/><rect x="51.8" y="59.2" width="7.44" height="7.44" fill="#dadada"/><rect x="51.8" y="66.6" width="7.44" height="7.44" fill="#dfdfdf"/><rect x="51.8" y="74.0" width="7.44" height="7.44" fill="#bfbfbf"/><rect x="51.8" y="81.4" width="7.44" height="7.44" fill="#e7e7e7"/><rect x="51.8" y="88.8" width="7.44" height="7.44" fill="#c2c2c2"/><rect x="59.2" y="0.0" width="7.44" height="7.44" fill="#ededed"/><rect x="59.2" y="7.4" width="7.44" height="7.44" fill="#f0f0f0"/><rect x="59.2" y="14.8" width="7.44" height="7.44" fill="#dfdfdf"/><rect x="59.2" y="22.2" width="7.44" height="7.44" fill="#c0c0c0"/><rect x="59.2" y="29.6" width="7.44" height="7.44" fill="#dedede"/><rect x="59.2" y="37.0" width="7.44" height="7.44" fill="#d6d6d6"/><rect x="59.2" y="51.8" width="7.44" height="7.44" fill="#c6c6c6"/><rect x="59.2" y="59.2" width="7.44" height="7.44" fill="#f6f6f6"/><rect x="59.2" y="74.0" width="7.44" height="7.44" fill="#ededed"/><rect x="59.2" y="81.4" width="7.44" height="7.44" fill="#f3f3f3"/><rect x="59.2" y="88.8" width="7.44" height="7.44" fill="#cacaca"/><rect x="66.6" y="7.4" width="7.44" height="7.44" fill="#dddddd"/><rect x="66.6" y="22.2" width="7.44" height="7.44" fill="#f9f9f9"/><rect x="66.6" y="29.6" width="7.44" height="7.44" fill="#c8c8c8"/><rect x="66.6" y="37.0" width="7.44" height="7.44" fill="#f1f1f1"/><rect x="66.6" y="44.4" width="7.44" height="7.44" fill="#fafafa"/><rect x="66.6" y="51.8" width="7.44" height="7.44" fill="#c1c1c1"/><rect x="66.6" y="59.2" width="7.44" height="7.44" fill="#d4d4d4"/><rect x="66.6" y="66.6" width="7.44" height="7.44" fill="#efefef"/><rect x="66.6" y="74.0" width="7.44" height="7.44" fill="#c7c7c7"/><rect x="66.6" y="81.4" width="7.44" height="7.44" fill="#f8f8f8"/><rect x="66.6" y="88.8" width="7.44" height="7.44" fill="#cfcfcf"/><rect x="74.0" y="0.0" width="7.44" height="7.44" fill="#f3f3f3"/><rect x="74.0" y="7.4" width="7.44" height="7.44" fill="#c6c6c6"/><rect x="74.0" y="14.8" width="7.44" height="7.44" fill="#dedede"/><rect x="74.0" y="22.2" width="7.44" height="7.44" fill="#fafafa"/><rect x="74.0" y="29.6" width="7.44" height="7.44" fill="#cbcbcb"/><rect x="74.0" y="37.0" width="7.44" height="7.44" fill="#cecece"/><rect x="74.0" y="44.4" width="7.44" height="7.44" fill="#dedede"/><rect x="74.0" y="51.8" width="7.44" height="7.44" fill="#d2d2d2"/><rect x="74.0" y="59.2" width="7.44" height="7.44" fill="#bfbfbf"/><rect x="74.0" y="66.6" width="7.44" height="7.44" fill="#c9c9c9"/><rect x="74.0" y="74.0" width="7.44" height="7.44" fill="#c7c7c7"/><rect x="74.0" y="81.4" width="7.44" height="7.44" fill="#fbfbfb"/><rect x="74.0" y="88.8" width="7.44" height="7.44" fill="#eaeaea"/><rect x="81.4" y="0.0" width="7.44" height="7.44" fill="#f8f8f8"/><rect x="81.4" y="7.4" width="7.44" height="7.44" fill="#c8c8c8"/><rect x="81.4" y="14.8" width="7.44" height="7.44" fill="#f1f1f1"/><rect x="81.4" y="22.2" width="7.44" height="7.44" fill="#c4c4c4"/><rect x="81.4" y="29.6" width="7.44" height="7.44" fill="#e0e0e0"/><rect x="81.4" y="37.0" width="7.44" height="7.44" fill="#e7e7e7"/><rect x="81.4" y="44.4" width="7.44" height="7.44" fill="#d5d5d5"/><rect x="81.4" y="51.8" width="7.44" height="7.44" fill="#f7f7f7"/><rect x="81.4" y="59.2" width="7.44" height="7.44" fill="#e2e2e2"/><rect x="81.4" y="66.6" width="7.44" height="7.44" fill="#e3e3e3"/><rect x="81.4" y="74.0" width="7.44" height="7.44" fill="#f7f7f7"/><rect x="81.4" y="81.4" width="7.44" height="7.44" fill="#c4c4c4"/><rect x="88.8" y="0.0" width="7.44" height="7.44" fill="#e6e6e6"/><rect x="88.8" y="7.4" width="7.44" height="7.44" fill="#d7d7d7"/><rect x="88.8" y="14.8" width="7.44" height="7.44" fill="#f2f2f2"/><rect x="88.8" y="22.2" width="7.44" height="7.44" fill="#cecece"/><rect x="88.8" y="37.0" width="7.44" height="7.44" fill="#e3e3e3"/><rect x="88.8" y="44.4" width="7.44" height="7.44" fill="#d5d5d5"/><rect x="88.8" y="51.8" width="7.44" height="7.44" fill="#efefef"/><rect x="88.8" y="59.2" width="7.44" height="7.44" fill="#dadada"/><rect x="88.8" y="66.6" width="7.44" height="7.44" fill="#c8c8c8"/><rect x="88.8" y="74.0" width="7.44" height="7.44" fill="#eeeeee"/><rect x="88.8" y="81.4" width="7.44" height="7.44" fill="#c0c0c0"/><rect x="88.8" y="88.8" width="7.44" height="7.44" fill="#f3f3f3"/></pattern>
</defs>
<rect x="115.75" y="8.85" width="820" height="700.5" rx="3" fill="#fff" stroke="#000" stroke-width="6.3"/>
<clipPath id="cs0"><rect x="119.3" y="12" width="78.7" height="660.6"/></clipPath>
<g clip-path="url(#cs0)"><g filter="url(#jet)">
<linearGradient id="sbg0" x1="0" y1="12" x2="0" y2="673" gradientUnits="userSpaceOnUse"><stop offset="0.000" stop-color="rgb(18,18,18)"/><stop offset="0.133" stop-color="rgb(23,23,23)"/><stop offset="0.284" stop-color="rgb(28,28,28)"/><stop offset="0.435" stop-color="rgb(33,33,33)"/><stop offset="0.436" stop-color="rgb(40,40,40)"/><stop offset="0.450" stop-color="rgb(43,43,43)"/><stop offset="1.000" stop-color="rgb(38,38,38)"/></linearGradient>
<rect x="116.3" y="9" width="84.7" height="666.6" fill="url(#sbg0)"/>
<rect x="128.0" y="300.0" width="66.0" height="400.0" rx="33.0" fill="rgb(54,54,54)" filter="url(#b7)"/>
<rect x="139.0" y="320.0" width="51.0" height="370.0" rx="25.5" fill="rgb(116,116,116)" filter="url(#b4)"/>
<rect x="183.0" y="330.0" width="12.0" height="340.0" rx="6.0" fill="rgb(80,80,80)" filter="url(#b4)"/>
<g transform="translate(0.0,0.0)"><rect class="m" x="116.3" y="9.0" width="84.7" height="291.0" fill="url(#nzC)"/></g>
<g transform="translate(29.6,44.4)"><rect class="m" x="86.7" y="-35.4" width="84.7" height="291.0" fill="url(#nzC)"/></g>
<g transform="translate(61.5,16.4)"><rect class="m" x="54.8" y="283.6" width="84.7" height="375.6" fill="url(#nzA)"/></g>
<g transform="translate(94.3,49.2)"><rect class="m" x="22.0" y="250.8" width="84.7" height="375.6" fill="url(#nzB)"/></g>
</g>
<rect x="184.5" y="651.9" width="4.1" height="4.1" fill="#4c80ff"/>
<rect x="139.4" y="434.6" width="4.1" height="4.1" fill="#88b0ff"/>
<rect x="164.0" y="373.1" width="4.1" height="4.1" fill="#6a98ff"/>
<rect x="151.7" y="336.2" width="4.1" height="4.1" fill="#5a8cf8"/>
<rect x="159.9" y="340.3" width="4.1" height="4.1" fill="#4c80ff"/>
<rect x="184.5" y="500.2" width="4.1" height="4.1" fill="#4c80ff"/>
<rect x="164.0" y="578.1" width="4.1" height="4.1" fill="#3c70ff"/>
<rect x="176.3" y="397.7" width="4.1" height="4.1" fill="#4c80ff"/>
<rect x="168.1" y="553.5" width="4.1" height="4.1" fill="#5a8cf8"/>
<rect x="147.6" y="578.1" width="4.1" height="4.1" fill="#5a8cf8"/>
<rect x="176.3" y="455.1" width="4.1" height="4.1" fill="#5a8cf8"/>
<rect x="139.4" y="598.6" width="4.1" height="4.1" fill="#40c0a0"/>
<rect x="143.5" y="594.5" width="4.1" height="4.1" fill="#30d060"/>
<rect x="164.0" y="643.7" width="4.1" height="4.1" fill="#60e040"/>
<rect x="147.6" y="647.8" width="4.1" height="4.1" fill="#20b080"/>
<rect x="139.4" y="606.8" width="4.1" height="4.1" fill="#20b080"/>
<rect x="159.9" y="623.2" width="4.1" height="4.1" fill="#c0d070"/>
<rect x="143.5" y="590.4" width="4.1" height="4.1" fill="#40c0a0"/>
<rect x="155.8" y="606.8" width="4.1" height="4.1" fill="#40c0a0"/>
<rect x="155.8" y="664.2" width="4.1" height="4.1" fill="#60e040"/>
<rect x="176.3" y="623.2" width="4.1" height="4.1" fill="#20b080"/>
<rect x="168.1" y="664.2" width="4.1" height="4.1" fill="#60e040"/>
<rect x="155.8" y="606.8" width="4.1" height="4.1" fill="#40c0a0"/>
<rect x="139.4" y="647.8" width="4.1" height="4.1" fill="#40c0a0"/>
<rect x="172.2" y="606.8" width="4.1" height="4.1" fill="#40c0a0"/>
<rect x="176.3" y="606.8" width="4.1" height="4.1" fill="#20b080"/>
<rect x="180.4" y="627.3" width="4.1" height="4.1" fill="#a0e040"/>
<rect x="188.6" y="414.1" width="4.1" height="4.1" fill="#40c0a0"/>
<rect x="192.7" y="492.0" width="4.1" height="4.1" fill="#a0e040"/>
<rect x="196.8" y="574.0" width="4.1" height="4.1" fill="#30d060"/>
<rect x="192.7" y="405.9" width="4.1" height="4.1" fill="#60e040"/>
<rect x="192.7" y="565.8" width="4.1" height="4.1" fill="#20b080"/>
</g>
<clipPath id="cs1"><rect x="206.0" y="12" width="82.5" height="661.5"/></clipPath>
<g clip-path="url(#cs1)"><g filter="url(#jet)">
<linearGradient id="sbg1" x1="0" y1="12" x2="0" y2="673" gradientUnits="userSpaceOnUse"><stop offset="0.000" stop-color="rgb(13,13,13)"/><stop offset="0.133" stop-color="rgb(17,17,17)"/><stop offset="0.284" stop-color="rgb(20,20,20)"/><stop offset="0.435" stop-color="rgb(24,24,24)"/><stop offset="0.436" stop-color="rgb(40,40,40)"/><stop offset="0.450" stop-color="rgb(43,43,43)"/><stop offset="1.000" stop-color="rgb(38,38,38)"/></linearGradient>
<rect x="203.0" y="9" width="88.5" height="667.5" fill="url(#sbg1)"/>
<rect x="212.0" y="298.0" width="76.0" height="400.0" rx="38.0" fill="rgb(69,69,69)" filter="url(#b7)"/>
<rect x="227.0" y="328.0" width="50.0" height="370.0" rx="25.0" fill="rgb(116,116,116)" filter="url(#b4)"/>
<ellipse cx="251.0" cy="374.0" rx="22.0" ry="42.0" fill="rgb(148,148,148)" filter="url(#b6)"/>
<ellipse cx="245.0" cy="346.0" rx="7.0" ry="8.0" fill="rgb(155,155,155)" filter="url(#b3)"/>
<ellipse cx="260.0" cy="392.0" rx="8.0" ry="10.0" fill="rgb(159,159,159)" filter="url(#b3)"/>
<g transform="translate(37.0,51.8)"><rect class="m" opacity="0.45" x="166.0" y="-42.8" width="88.5" height="291.0" fill="url(#nzC)"/></g>
<g transform="translate(66.6,7.4)"><rect class="m" opacity="0.45" x="136.4" y="1.6" width="88.5" height="291.0" fill="url(#nzC)"/></g>
<g transform="translate(20.5,69.7)"><rect class="m" x="182.5" y="230.3" width="88.5" height="376.5" fill="url(#nzA)"/></g>
<g transform="translate(36.9,8.2)"><rect class="m" x="166.1" y="291.8" width="88.5" height="376.5" fill="url(#nzB)"/></g>
</g>
<rect x="241.9" y="660.1" width="4.1" height="4.1" fill="#5a8cf8"/>
<rect x="233.7" y="492.0" width="4.1" height="4.1" fill="#88b0ff"/>
<rect x="254.2" y="483.8" width="4.1" height="4.1" fill="#6a98ff"/>
<rect x="237.8" y="393.6" width="4.1" height="4.1" fill="#3c70ff"/>
<rect x="258.3" y="508.4" width="4.1" height="4.1" fill="#5a8cf8"/>
<rect x="233.7" y="369.0" width="4.1" height="4.1" fill="#4c80ff"/>
<rect x="254.2" y="647.8" width="4.1" height="4.1" fill="#3c70ff"/>
<rect x="266.5" y="446.9" width="4.1" height="4.1" fill="#3c70ff"/>
<rect x="270.6" y="516.6" width="4.1" height="4.1" fill="#88b0ff"/>
<rect x="254.2" y="422.3" width="4.1" height="4.1" fill="#4c80ff"/>
<rect x="258.3" y="373.1" width="4.1" height="4.1" fill="#88b0ff"/>
</g>
<clipPath id="cs2"><rect x="293.0" y="12" width="83.0" height="661.5"/></clipPath>
<g clip-path="url(#cs2)"><g filter="url(#jet)">
<linearGradient id="sbg2" x1="0" y1="12" x2="0" y2="673" gradientUnits="userSpaceOnUse"><stop offset="0.000" stop-color="rgb(15,15,15)"/><stop offset="0.133" stop-color="rgb(19,19,19)"/><stop offset="0.284" stop-color="rgb(23,23,23)"/><stop offset="0.435" stop-color="rgb(27,27,27)"/><stop offset="0.436" stop-color="rgb(40,40,40)"/><stop offset="0.450" stop-color="rgb(43,43,43)"/><stop offset="1.000" stop-color="rgb(38,38,38)"/></linearGradient>
<rect x="290.0" y="9" width="89.0" height="667.5" fill="url(#sbg2)"/>
<rect x="304.0" y="300.0" width="72.0" height="400.0" rx="36.0" fill="rgb(54,54,54)" filter="url(#b7)"/>
<rect x="320.0" y="400.0" width="48.0" height="290.0" rx="24.0" fill="rgb(89,89,89)" filter="url(#b6)"/>
<g transform="rotate(-11.0 339.0 369.0)">
<ellipse cx="339.0" cy="369.0" rx="32.0" ry="54.0" fill="rgb(105,105,105)" filter="url(#b6)"/>
<ellipse cx="339.0" cy="369.0" rx="27.0" ry="49.0" fill="rgb(152,152,152)" filter="url(#b5)"/>
</g>
<g transform="translate(74.0,14.8)"><rect class="m" opacity="0.55" x="216.0" y="-5.8" width="89.0" height="291.0" fill="url(#nzC)"/></g>
<g transform="translate(7.4,59.2)"><rect class="m" opacity="0.55" x="282.6" y="-50.2" width="89.0" height="291.0" fill="url(#nzC)"/></g>
<g transform="translate(57.4,49.2)"><rect class="m" x="232.6" y="250.8" width="89.0" height="376.5" fill="url(#nzA)"/></g>
<g transform="translate(73.8,61.5)"><rect class="m" x="216.2" y="238.5" width="89.0" height="376.5" fill="url(#nzB)"/></g>
<g transform="rotate(-11.0 339.0 369.0)">
<ellipse cx="339.0" cy="370.0" rx="21.0" ry="41.0" fill="rgb(177,177,177)" filter="url(#b4)"/>
<ellipse cx="335.0" cy="345.0" rx="8.0" ry="10.0" fill="rgb(195,195,195)" filter="url(#b3)"/>
<ellipse cx="348.0" cy="389.0" rx="8.0" ry="10.0" fill="rgb(201,201,201)" filter="url(#b3)"/>
</g>
<mask id="cb2" maskUnits="userSpaceOnUse" x="250.2" y="250" width="103.0" height="250"><ellipse cx="306.2" cy="311.6" rx="23.0" ry="43.0" fill="#fff" filter="url(#b3)" transform="rotate(-11.0 306.2 311.6)"/></mask>
<g transform="translate(32.8,57.4)"><rect class="m" mask="url(#cb2)" opacity="0.85" x="257.2" y="242.6" width="89.0" height="150.0" fill="url(#nzA)"/></g>
</g>
<rect x="332.1" y="553.5" width="4.1" height="4.1" fill="#5a8cf8"/>
<rect x="328.0" y="516.6" width="4.1" height="4.1" fill="#88b0ff"/>
<rect x="364.9" y="434.6" width="4.1" height="4.1" fill="#88b0ff"/>
<rect x="340.3" y="459.2" width="4.1" height="4.1" fill="#6a98ff"/>
<rect x="352.6" y="660.1" width="4.1" height="4.1" fill="#4c80ff"/>
<rect x="344.4" y="664.2" width="4.1" height="4.1" fill="#4c80ff"/>
<rect x="336.2" y="660.1" width="4.1" height="4.1" fill="#88b0ff"/>
<rect x="344.4" y="430.5" width="4.1" height="4.1" fill="#3c70ff"/>
<rect x="344.4" y="467.4" width="4.1" height="4.1" fill="#88b0ff"/>
<rect x="364.9" y="475.6" width="4.1" height="4.1" fill="#4c80ff"/>
<rect x="348.5" y="582.2" width="4.1" height="4.1" fill="#5a8cf8"/>
<rect x="348.5" y="479.7" width="4.1" height="4.1" fill="#4c80ff"/>
<rect x="340.3" y="643.7" width="4.1" height="4.1" fill="#88b0ff"/>
<rect x="356.7" y="582.2" width="4.1" height="4.1" fill="#88b0ff"/>
<rect x="356.7" y="643.7" width="4.1" height="4.1" fill="#88b0ff"/>
<rect x="323.9" y="660.1" width="4.1" height="4.1" fill="#6a98ff"/>
<rect x="344.4" y="524.8" width="4.1" height="4.1" fill="#3c70ff"/>
<rect x="356.7" y="557.6" width="4.1" height="4.1" fill="#5a8cf8"/>
<rect x="323.9" y="492.0" width="4.1" height="4.1" fill="#4c80ff"/>
<rect x="348.5" y="504.3" width="4.1" height="4.1" fill="#5a8cf8"/>
<rect x="352.6" y="524.8" width="4.1" height="4.1" fill="#6a98ff"/>
<rect x="364.9" y="438.7" width="4.1" height="4.1" fill="#5a8cf8"/>
<rect x="352.6" y="446.9" width="4.1" height="4.1" fill="#5a8cf8"/>
<rect x="364.9" y="619.1" width="4.1" height="4.1" fill="#3c70ff"/>
<rect x="323.9" y="512.5" width="4.1" height="4.1" fill="#6a98ff"/>
<rect x="356.7" y="520.7" width="4.1" height="4.1" fill="#4c80ff"/>
<rect x="328.0" y="533.0" width="4.1" height="4.1" fill="#88b0ff"/>
<rect x="364.9" y="524.8" width="4.1" height="4.1" fill="#3c70ff"/>
<rect x="344.4" y="590.4" width="4.1" height="4.1" fill="#5a8cf8"/>
<rect x="352.6" y="463.3" width="4.1" height="4.1" fill="#5a8cf8"/>
<rect x="336.2" y="643.7" width="4.1" height="4.1" fill="#4c80ff"/>
<rect x="332.1" y="434.6" width="4.1" height="4.1" fill="#88b0ff"/>
<rect x="340.3" y="426.4" width="4.1" height="4.1" fill="#88b0ff"/>
<rect x="348.5" y="492.0" width="4.1" height="4.1" fill="#3c70ff"/>
<rect x="340.3" y="619.1" width="4.1" height="4.1" fill="#3c70ff"/>
<rect x="364.9" y="504.3" width="4.1" height="4.1" fill="#88b0ff"/>
<rect x="323.9" y="639.6" width="4.1" height="4.1" fill="#88b0ff"/>
<rect x="356.7" y="639.6" width="4.1" height="4.1" fill="#5a8cf8"/>
<rect x="336.2" y="442.8" width="4.1" height="4.1" fill="#6a98ff"/>
<rect x="360.8" y="664.2" width="4.1" height="4.1" fill="#6a98ff"/>
<rect x="344.4" y="446.9" width="4.1" height="4.1" fill="#88b0ff"/>
<rect x="364.9" y="487.9" width="4.1" height="4.1" fill="#88b0ff"/>
<rect x="323.9" y="430.5" width="4.1" height="4.1" fill="#4c80ff"/>
<rect x="332.1" y="664.2" width="4.1" height="4.1" fill="#88b0ff"/>
<rect x="323.9" y="619.1" width="4.1" height="4.1" fill="#3c70ff"/>
<rect x="332.1" y="561.7" width="4.1" height="4.1" fill="#5a8cf8"/>
</g>
<clipPath id="cs3"><rect x="380.0" y="12" width="82.2" height="661.5"/></clipPath>
<g clip-path="url(#cs3)"><g filter="url(#jet)">
<linearGradient id="sbg3" x1="0" y1="12" x2="0" y2="673" gradientUnits="userSpaceOnUse"><stop offset="0.000" stop-color="rgb(21,21,21)"/><stop offset="0.133" stop-color="rgb(28,28,28)"/><stop offset="0.284" stop-color="rgb(33,33,33)"/><stop offset="0.435" stop-color="rgb(39,39,39)"/><stop offset="0.436" stop-color="rgb(40,40,40)"/><stop offset="0.450" stop-color="rgb(43,43,43)"/><stop offset="1.000" stop-color="rgb(38,38,38)"/></linearGradient>
<rect x="377.0" y="9" width="88.2" height="667.5" fill="url(#sbg3)"/>
<rect x="390.0" y="295.0" width="70.0" height="400.0" rx="35.0" fill="rgb(52,52,52)" filter="url(#b7)"/>
<rect x="403.0" y="410.0" width="44.0" height="280.0" rx="22.0" fill="rgb(70,70,70)" filter="url(#b6)"/>
<ellipse cx="432.0" cy="415.0" rx="14.0" ry="14.0" fill="rgb(119,119,119)" filter="url(#b5)"/>
<g transform="rotate(-12.0 424.5 364.0)">
<ellipse cx="424.5" cy="364.0" rx="31.0" ry="55.0" fill="rgb(105,105,105)" filter="url(#b6)"/>
<ellipse cx="424.5" cy="364.0" rx="26.0" ry="50.0" fill="rgb(152,152,152)" filter="url(#b5)"/>
</g>
<g transform="translate(14.8,66.6)"><rect class="m" x="362.2" y="-57.6" width="88.2" height="291.0" fill="url(#nzC)"/></g>
<g transform="translate(44.4,14.8)"><rect class="m" x="332.6" y="-5.8" width="88.2" height="291.0" fill="url(#nzC)"/></g>
<g transform="translate(16.4,24.6)"><rect class="m" x="360.6" y="275.4" width="88.2" height="376.5" fill="url(#nzA)"/></g>
<g transform="translate(16.4,20.5)"><rect class="m" x="360.6" y="279.5" width="88.2" height="376.5" fill="url(#nzB)"/></g>
<g transform="rotate(-12.0 424.5 364.0)">
<ellipse cx="424.5" cy="364.0" rx="21.0" ry="39.0" fill="rgb(195,195,195)" filter="url(#b4)"/>
<ellipse cx="422.5" cy="364.0" rx="15.0" ry="30.0" fill="rgb(218,218,218)" filter="url(#b5)"/>
<ellipse cx="418.5" cy="350.0" rx="9.0" ry="16.0" fill="rgb(255,255,255)" filter="url(#b3)"/>
<ellipse cx="434.5" cy="386.0" rx="7.0" ry="10.0" fill="rgb(255,255,255)" filter="url(#b3)"/>
</g>
<mask id="cb3" maskUnits="userSpaceOnUse" x="316.7" y="250" width="102.2" height="250"><ellipse cx="371.2" cy="351.7" rx="22.0" ry="44.0" fill="#fff" filter="url(#b3)" transform="rotate(-12.0 371.2 351.7)"/></mask>
<g transform="translate(53.3,12.3)"><rect class="m" mask="url(#cb3)" opacity="0.85" x="323.7" y="287.7" width="88.2" height="150.0" fill="url(#nzA)"/></g>
</g>
<rect x="410.9" y="352.1" width="4.1" height="4.1" fill="#ffffff"/>
<rect x="406.8" y="352.1" width="4.1" height="4.1" fill="#f0a040"/>
<rect x="415.0" y="356.2" width="4.1" height="4.1" fill="#ffe8b0"/>
<rect x="415.0" y="343.9" width="4.1" height="4.1" fill="#ffffff"/>
<rect x="415.0" y="352.1" width="4.1" height="4.1" fill="#ffe8b0"/>
<rect x="427.3" y="356.2" width="4.1" height="4.1" fill="#ffffff"/>
<rect x="410.9" y="335.7" width="4.1" height="4.1" fill="#f8e090"/>
<rect x="415.0" y="348.0" width="4.1" height="4.1" fill="#f0a040"/>
<rect x="410.9" y="339.8" width="4.1" height="4.1" fill="#c02000"/>
<rect x="406.8" y="356.2" width="4.1" height="4.1" fill="#e8c870"/>
<rect x="406.8" y="339.8" width="4.1" height="4.1" fill="#fff4c0"/>
<rect x="415.0" y="339.8" width="4.1" height="4.1" fill="#f0a040"/>
<rect x="434.0" y="387.0" width="4.1" height="4.1" fill="#fff8d8"/>
<rect x="434.0" y="382.9" width="4.1" height="4.1" fill="#d04010"/>
<rect x="425.8" y="395.2" width="4.1" height="4.1" fill="#ffe8b0"/>
<rect x="438.1" y="387.0" width="4.1" height="4.1" fill="#fffbe8"/>
<rect x="425.8" y="391.1" width="4.1" height="4.1" fill="#b07040"/>
<rect x="429.9" y="391.1" width="4.1" height="4.1" fill="#f0a040"/>
<rect x="438.1" y="391.1" width="4.1" height="4.1" fill="#b07040"/>
<rect x="434.0" y="391.1" width="4.1" height="4.1" fill="#fffbe8"/>
<rect x="438.7" y="442.8" width="4.1" height="4.1" fill="#5a8cf8"/>
<rect x="422.3" y="590.4" width="4.1" height="4.1" fill="#3c70ff"/>
<rect x="446.9" y="574.0" width="4.1" height="4.1" fill="#5a8cf8"/>
<rect x="410.0" y="660.1" width="4.1" height="4.1" fill="#6a98ff"/>
<rect x="446.9" y="455.1" width="4.1" height="4.1" fill="#6a98ff"/>
<rect x="442.8" y="492.0" width="4.1" height="4.1" fill="#3c70ff"/>
<rect x="426.4" y="610.9" width="4.1" height="4.1" fill="#4c80ff"/>
<rect x="430.5" y="565.8" width="4.1" height="4.1" fill="#3c70ff"/>
<rect x="405.9" y="508.4" width="4.1" height="4.1" fill="#6a98ff"/>
<rect x="438.7" y="471.5" width="4.1" height="4.1" fill="#88b0ff"/>
<rect x="446.9" y="606.8" width="4.1" height="4.1" fill="#6a98ff"/>
<rect x="426.4" y="631.4" width="4.1" height="4.1" fill="#88b0ff"/>
<rect x="430.5" y="553.5" width="4.1" height="4.1" fill="#6a98ff"/>
<rect x="434.6" y="647.8" width="4.1" height="4.1" fill="#3c70ff"/>
<rect x="422.3" y="582.2" width="4.1" height="4.1" fill="#6a98ff"/>
</g>
<clipPath id="cs4"><rect x="466.3" y="12" width="81.7" height="660.8"/></clipPath>
<g clip-path="url(#cs4)"><g filter="url(#jet)">
<linearGradient id="sbg4" x1="0" y1="12" x2="0" y2="673" gradientUnits="userSpaceOnUse"><stop offset="0.000" stop-color="rgb(21,21,21)"/><stop offset="0.133" stop-color="rgb(28,28,28)"/><stop offset="0.284" stop-color="rgb(33,33,33)"/><stop offset="0.435" stop-color="rgb(39,39,39)"/><stop offset="0.436" stop-color="rgb(40,40,40)"/><stop offset="0.450" stop-color="rgb(43,43,43)"/><stop offset="1.000" stop-color="rgb(38,38,38)"/></linearGradient>
<rect x="463.3" y="9" width="87.7" height="666.8" fill="url(#sbg4)"/>
<rect x="476.0" y="295.0" width="70.0" height="400.0" rx="35.0" fill="rgb(52,52,52)" filter="url(#b7)"/>
<rect x="489.0" y="410.0" width="46.0" height="280.0" rx="23.0" fill="rgb(70,70,70)" filter="url(#b6)"/>
<ellipse cx="517.0" cy="418.0" rx="15.0" ry="14.0" fill="rgb(116,116,116)" filter="url(#b5)"/>
<g transform="rotate(-12.0 511.0 369.0)">
<ellipse cx="511.0" cy="369.0" rx="32.0" ry="56.0" fill="rgb(105,105,105)" filter="url(#b6)"/>
<ellipse cx="511.0" cy="369.0" rx="27.0" ry="51.0" fill="rgb(152,152,152)" filter="url(#b5)"/>
</g>
<g transform="translate(51.8,22.2)"><rect class="m" x="411.5" y="-13.2" width="87.7" height="291.0" fill="url(#nzC)"/></g>
<g transform="translate(81.4,66.6)"><rect class="m" x="381.9" y="-57.6" width="87.7" height="291.0" fill="url(#nzC)"/></g>
<g transform="translate(57.4,77.9)"><rect class="m" x="405.9" y="222.1" width="87.7" height="375.8" fill="url(#nzA)"/></g>
<g transform="translate(53.3,73.8)"><rect class="m" x="410.0" y="226.2" width="87.7" height="375.8" fill="url(#nzB)"/></g>
<g transform="rotate(-12.0 511.0 369.0)">
<ellipse cx="511.0" cy="369.0" rx="22.0" ry="43.0" fill="rgb(195,195,195)" filter="url(#b4)"/>
<ellipse cx="509.0" cy="369.0" rx="16.0" ry="33.0" fill="rgb(221,221,221)" filter="url(#b5)"/>
<ellipse cx="503.0" cy="357.0" rx="11.0" ry="22.0" fill="rgb(255,255,255)" filter="url(#b3)"/>
<ellipse cx="522.0" cy="389.0" rx="8.0" ry="12.0" fill="rgb(255,255,255)" filter="url(#b3)"/>
</g>
<mask id="cb4" maskUnits="userSpaceOnUse" x="386.6" y="250" width="101.7" height="250"><ellipse cx="441.3" cy="328.0" rx="23.0" ry="45.0" fill="#fff" filter="url(#b3)" transform="rotate(-12.0 441.3 328.0)"/></mask>
<g transform="translate(69.7,41.0)"><rect class="m" mask="url(#cb4)" opacity="0.85" x="393.6" y="259.0" width="87.7" height="150.0" fill="url(#nzA)"/></g>
</g>
<rect x="494.9" y="355.1" width="4.1" height="4.1" fill="#ffe8b0"/>
<rect x="494.9" y="346.9" width="4.1" height="4.1" fill="#f0a040"/>
<rect x="507.2" y="351.0" width="4.1" height="4.1" fill="#b07040"/>
<rect x="499.0" y="346.9" width="4.1" height="4.1" fill="#b07040"/>
<rect x="499.0" y="351.0" width="4.1" height="4.1" fill="#fff8d8"/>
<rect x="494.9" y="371.5" width="4.1" height="4.1" fill="#f0a040"/>
<rect x="507.2" y="387.9" width="4.1" height="4.1" fill="#fff8d8"/>
<rect x="503.1" y="351.0" width="4.1" height="4.1" fill="#d04010"/>
<rect x="503.1" y="342.8" width="4.1" height="4.1" fill="#fff4c0"/>
<rect x="503.1" y="359.2" width="4.1" height="4.1" fill="#f0a040"/>
<rect x="490.8" y="338.7" width="4.1" height="4.1" fill="#f8e090"/>
<rect x="503.1" y="346.9" width="4.1" height="4.1" fill="#f8e090"/>
<rect x="499.0" y="359.2" width="4.1" height="4.1" fill="#fff8d8"/>
<rect x="499.0" y="322.3" width="4.1" height="4.1" fill="#f0a040"/>
<rect x="499.0" y="338.7" width="4.1" height="4.1" fill="#ffffff"/>
<rect x="516.9" y="383.9" width="4.1" height="4.1" fill="#fff4c0"/>
<rect x="525.1" y="392.1" width="4.1" height="4.1" fill="#d04010"/>
<rect x="521.0" y="396.2" width="4.1" height="4.1" fill="#d04010"/>
<rect x="512.8" y="396.2" width="4.1" height="4.1" fill="#ffffff"/>
<rect x="521.0" y="392.1" width="4.1" height="4.1" fill="#fff4c0"/>
<rect x="516.9" y="379.8" width="4.1" height="4.1" fill="#fff4c0"/>
<rect x="521.0" y="400.3" width="4.1" height="4.1" fill="#f0a040"/>
<rect x="521.0" y="383.9" width="4.1" height="4.1" fill="#b07040"/>
<rect x="521.0" y="388.0" width="4.1" height="4.1" fill="#f8e090"/>
<rect x="504.3" y="664.2" width="4.1" height="4.1" fill="#3c70ff"/>
<rect x="524.8" y="430.5" width="4.1" height="4.1" fill="#88b0ff"/>
<rect x="504.3" y="471.5" width="4.1" height="4.1" fill="#5a8cf8"/>
<rect x="496.1" y="500.2" width="4.1" height="4.1" fill="#88b0ff"/>
<rect x="492.0" y="500.2" width="4.1" height="4.1" fill="#88b0ff"/>
<rect x="508.4" y="459.2" width="4.1" height="4.1" fill="#88b0ff"/>
<rect x="504.3" y="656.0" width="4.1" height="4.1" fill="#4c80ff"/>
<rect x="516.6" y="528.9" width="4.1" height="4.1" fill="#6a98ff"/>
<rect x="508.4" y="512.5" width="4.1" height="4.1" fill="#88b0ff"/>
<rect x="533.0" y="553.5" width="4.1" height="4.1" fill="#5a8cf8"/>
<rect x="516.6" y="623.2" width="4.1" height="4.1" fill="#6a98ff"/>
<rect x="528.9" y="664.2" width="4.1" height="4.1" fill="#88b0ff"/>
<rect x="533.0" y="533.0" width="4.1" height="4.1" fill="#4c80ff"/>
</g>
<clipPath id="cs5"><rect x="556.0" y="12" width="82.0" height="660.8"/></clipPath>
<g clip-path="url(#cs5)"><g filter="url(#jet)">
<linearGradient id="sbg5" x1="0" y1="12" x2="0" y2="673" gradientUnits="userSpaceOnUse"><stop offset="0.000" stop-color="rgb(21,21,21)"/><stop offset="0.133" stop-color="rgb(28,28,28)"/><stop offset="0.284" stop-color="rgb(33,33,33)"/><stop offset="0.435" stop-color="rgb(39,39,39)"/><stop offset="0.436" stop-color="rgb(40,40,40)"/><stop offset="0.450" stop-color="rgb(43,43,43)"/><stop offset="1.000" stop-color="rgb(38,38,38)"/></linearGradient>
<rect x="553.0" y="9" width="88.0" height="666.8" fill="url(#sbg5)"/>
<rect x="566.0" y="295.0" width="70.0" height="400.0" rx="35.0" fill="rgb(52,52,52)" filter="url(#b7)"/>
<rect x="578.0" y="410.0" width="46.0" height="280.0" rx="23.0" fill="rgb(69,69,69)" filter="url(#b6)"/>
<ellipse cx="606.0" cy="419.0" rx="15.0" ry="14.0" fill="rgb(116,116,116)" filter="url(#b5)"/>
<g transform="rotate(-10.0 600.0 371.0)">
<ellipse cx="600.0" cy="371.0" rx="32.0" ry="57.0" fill="rgb(105,105,105)" filter="url(#b6)"/>
<ellipse cx="600.0" cy="371.0" rx="27.0" ry="52.0" fill="rgb(152,152,152)" filter="url(#b5)"/>
</g>
<g transform="translate(88.8,74.0)"><rect class="m" x="464.2" y="-65.0" width="88.0" height="291.0" fill="url(#nzC)"/></g>
<g transform="translate(22.2,29.6)"><rect class="m" x="530.8" y="-20.6" width="88.0" height="291.0" fill="url(#nzC)"/></g>
<g transform="translate(16.4,53.3)"><rect class="m" x="536.6" y="246.7" width="88.0" height="375.8" fill="url(#nzA)"/></g>
<g transform="translate(90.2,36.9)"><rect class="m" x="462.8" y="263.1" width="88.0" height="375.8" fill="url(#nzB)"/></g>
<g transform="rotate(-10.0 600.0 371.0)">
<ellipse cx="600.0" cy="371.0" rx="22.0" ry="44.0" fill="rgb(195,195,195)" filter="url(#b4)"/>
<ellipse cx="598.0" cy="371.0" rx="16.0" ry="34.0" fill="rgb(221,221,221)" filter="url(#b5)"/>
<ellipse cx="591.0" cy="359.0" rx="11.0" ry="20.0" fill="rgb(255,255,255)" filter="url(#b3)"/>
<ellipse cx="610.0" cy="389.0" rx="9.0" ry="12.0" fill="rgb(255,255,255)" filter="url(#b3)"/>
</g>
<mask id="cb5" maskUnits="userSpaceOnUse" x="537.8" y="250" width="102.0" height="250"><ellipse cx="591.8" cy="301.3" rx="23.0" ry="46.0" fill="#fff" filter="url(#b3)" transform="rotate(-10.0 591.8 301.3)"/></mask>
<g transform="translate(8.2,69.7)"><rect class="m" mask="url(#cb5)" opacity="0.85" x="544.8" y="230.3" width="88.0" height="150.0" fill="url(#nzA)"/></g>
</g>
<rect x="592.1" y="358.2" width="4.1" height="4.1" fill="#c02000"/>
<rect x="583.9" y="337.7" width="4.1" height="4.1" fill="#fff8d8"/>
<rect x="596.2" y="345.9" width="4.1" height="4.1" fill="#fffbe8"/>
<rect x="583.9" y="350.0" width="4.1" height="4.1" fill="#d04010"/>
<rect x="588.0" y="350.0" width="4.1" height="4.1" fill="#ffe8b0"/>
<rect x="588.0" y="354.1" width="4.1" height="4.1" fill="#fff4c0"/>
<rect x="592.1" y="354.1" width="4.1" height="4.1" fill="#fffbe8"/>
<rect x="596.2" y="341.8" width="4.1" height="4.1" fill="#f8e090"/>
<rect x="592.1" y="329.5" width="4.1" height="4.1" fill="#c02000"/>
<rect x="596.2" y="358.2" width="4.1" height="4.1" fill="#fffbe8"/>
<rect x="592.1" y="341.8" width="4.1" height="4.1" fill="#fff8d8"/>
<rect x="583.9" y="341.8" width="4.1" height="4.1" fill="#fffbe8"/>
<rect x="588.0" y="345.9" width="4.1" height="4.1" fill="#ffe8b0"/>
<rect x="583.9" y="354.1" width="4.1" height="4.1" fill="#fff8d8"/>
<rect x="605.9" y="386.0" width="4.1" height="4.1" fill="#e8c870"/>
<rect x="614.1" y="386.0" width="4.1" height="4.1" fill="#ffffff"/>
<rect x="622.3" y="390.1" width="4.1" height="4.1" fill="#fff4c0"/>
<rect x="601.8" y="386.0" width="4.1" height="4.1" fill="#ffffff"/>
<rect x="610.0" y="386.0" width="4.1" height="4.1" fill="#d04010"/>
<rect x="614.1" y="394.2" width="4.1" height="4.1" fill="#e8c870"/>
<rect x="614.1" y="398.3" width="4.1" height="4.1" fill="#ffe8b0"/>
<rect x="614.1" y="381.9" width="4.1" height="4.1" fill="#f0a040"/>
<rect x="605.9" y="394.2" width="4.1" height="4.1" fill="#f0a040"/>
<rect x="605.9" y="377.8" width="4.1" height="4.1" fill="#f0a040"/>
<rect x="605.9" y="381.9" width="4.1" height="4.1" fill="#f8e090"/>
<rect x="594.5" y="516.6" width="4.1" height="4.1" fill="#4c80ff"/>
<rect x="610.9" y="524.8" width="4.1" height="4.1" fill="#3c70ff"/>
<rect x="619.1" y="602.7" width="4.1" height="4.1" fill="#3c70ff"/>
<rect x="610.9" y="455.1" width="4.1" height="4.1" fill="#4c80ff"/>
<rect x="610.9" y="623.2" width="4.1" height="4.1" fill="#88b0ff"/>
<rect x="602.7" y="451.0" width="4.1" height="4.1" fill="#4c80ff"/>
<rect x="598.6" y="590.4" width="4.1" height="4.1" fill="#3c70ff"/>
<rect x="582.2" y="426.4" width="4.1" height="4.1" fill="#5a8cf8"/>
<rect x="602.7" y="553.5" width="4.1" height="4.1" fill="#6a98ff"/>
<rect x="615.0" y="615.0" width="4.1" height="4.1" fill="#3c70ff"/>
<rect x="590.4" y="492.0" width="4.1" height="4.1" fill="#88b0ff"/>
<rect x="619.1" y="651.9" width="4.1" height="4.1" fill="#5a8cf8"/>
<rect x="590.4" y="660.1" width="4.1" height="4.1" fill="#4c80ff"/>
</g>
<clipPath id="cs6"><rect x="643.8" y="12" width="82.0" height="658.7"/></clipPath>
<g clip-path="url(#cs6)"><g filter="url(#jet)">
<linearGradient id="sbg6" x1="0" y1="12" x2="0" y2="673" gradientUnits="userSpaceOnUse"><stop offset="0.000" stop-color="rgb(21,21,21)"/><stop offset="0.133" stop-color="rgb(28,28,28)"/><stop offset="0.284" stop-color="rgb(33,33,33)"/><stop offset="0.435" stop-color="rgb(39,39,39)"/><stop offset="0.436" stop-color="rgb(40,40,40)"/><stop offset="0.450" stop-color="rgb(43,43,43)"/><stop offset="1.000" stop-color="rgb(38,38,38)"/></linearGradient>
<rect x="640.8" y="9" width="88.0" height="664.7" fill="url(#sbg6)"/>
<rect x="654.0" y="295.0" width="70.0" height="400.0" rx="35.0" fill="rgb(51,51,51)" filter="url(#b7)"/>
<rect x="667.0" y="420.0" width="46.0" height="270.0" rx="23.0" fill="rgb(63,63,63)" filter="url(#b6)"/>
<ellipse cx="695.0" cy="420.0" rx="17.0" ry="16.0" fill="rgb(119,119,119)" filter="url(#b6)"/>
<g transform="rotate(-8.0 690.0 370.0)">
<ellipse cx="690.0" cy="370.0" rx="33.0" ry="58.0" fill="rgb(105,105,105)" filter="url(#b6)"/>
<ellipse cx="690.0" cy="370.0" rx="28.0" ry="53.0" fill="rgb(152,152,152)" filter="url(#b5)"/>
</g>
<g transform="translate(29.6,37.0)"><rect class="m" x="611.2" y="-28.0" width="88.0" height="291.0" fill="url(#nzC)"/></g>
<g transform="translate(59.2,81.4)"><rect class="m" x="581.6" y="-72.4" width="88.0" height="291.0" fill="url(#nzC)"/></g>
<g transform="translate(53.3,28.7)"><rect class="m" x="587.5" y="271.3" width="88.0" height="373.7" fill="url(#nzA)"/></g>
<g transform="translate(32.8,90.2)"><rect class="m" x="608.0" y="209.8" width="88.0" height="373.7" fill="url(#nzB)"/></g>
<g transform="rotate(-8.0 690.0 370.0)">
<ellipse cx="690.0" cy="370.0" rx="23.0" ry="45.0" fill="rgb(183,183,183)" filter="url(#b4)"/>
<ellipse cx="689.0" cy="368.0" rx="15.0" ry="31.0" fill="rgb(204,204,204)" filter="url(#b5)"/>
<ellipse cx="682.0" cy="352.0" rx="8.0" ry="13.0" fill="rgb(236,236,236)" filter="url(#b3)"/>
<ellipse cx="700.0" cy="386.0" rx="7.0" ry="11.0" fill="rgb(248,248,248)" filter="url(#b3)"/>
</g>
<mask id="cb6" maskUnits="userSpaceOnUse" x="609.2" y="250" width="102.0" height="250"><ellipse cx="665.4" cy="349.5" rx="24.0" ry="47.0" fill="#fff" filter="url(#b3)" transform="rotate(-8.0 665.4 349.5)"/></mask>
<g transform="translate(24.6,20.5)"><rect class="m" mask="url(#cb6)" opacity="0.85" x="616.2" y="279.5" width="88.0" height="150.0" fill="url(#nzA)"/></g>
</g>
<rect x="685.1" y="352.1" width="4.1" height="4.1" fill="#f8e090"/>
<rect x="676.9" y="331.6" width="4.1" height="4.1" fill="#d05010"/>
<rect x="681.0" y="343.9" width="4.1" height="4.1" fill="#c8b040"/>
<rect x="681.0" y="352.1" width="4.1" height="4.1" fill="#c8b040"/>
<rect x="676.9" y="352.1" width="4.1" height="4.1" fill="#d05010"/>
<rect x="681.0" y="335.7" width="4.1" height="4.1" fill="#e0d060"/>
<rect x="681.0" y="348.0" width="4.1" height="4.1" fill="#f8e090"/>
<rect x="681.0" y="356.2" width="4.1" height="4.1" fill="#d05010"/>
<rect x="693.9" y="377.9" width="4.1" height="4.1" fill="#e0d060"/>
<rect x="698.0" y="382.0" width="4.1" height="4.1" fill="#c8b040"/>
<rect x="702.1" y="390.2" width="4.1" height="4.1" fill="#d05010"/>
<rect x="698.0" y="386.1" width="4.1" height="4.1" fill="#f8e090"/>
<rect x="702.1" y="386.1" width="4.1" height="4.1" fill="#d05010"/>
<rect x="702.1" y="377.9" width="4.1" height="4.1" fill="#f0a040"/>
<rect x="698.0" y="377.9" width="4.1" height="4.1" fill="#f8e090"/>
<rect x="698.0" y="373.8" width="4.1" height="4.1" fill="#f8e090"/>
<rect x="676.5" y="590.4" width="4.1" height="4.1" fill="#5a8cf8"/>
<rect x="676.5" y="594.5" width="4.1" height="4.1" fill="#6a98ff"/>
<rect x="697.0" y="455.1" width="4.1" height="4.1" fill="#3c70ff"/>
<rect x="709.3" y="455.1" width="4.1" height="4.1" fill="#5a8cf8"/>
<rect x="672.4" y="451.0" width="4.1" height="4.1" fill="#4c80ff"/>
<rect x="701.1" y="656.0" width="4.1" height="4.1" fill="#4c80ff"/>
<rect x="688.8" y="496.1" width="4.1" height="4.1" fill="#5a8cf8"/>
<rect x="684.7" y="582.2" width="4.1" height="4.1" fill="#4c80ff"/>
<rect x="705.2" y="475.6" width="4.1" height="4.1" fill="#4c80ff"/>
</g>
<clipPath id="cs7"><rect x="730.6" y="12" width="82.7" height="660.2"/></clipPath>
<g clip-path="url(#cs7)"><g filter="url(#jet)">
<linearGradient id="sbg7" x1="0" y1="12" x2="0" y2="673" gradientUnits="userSpaceOnUse"><stop offset="0.000" stop-color="rgb(21,21,21)"/><stop offset="0.133" stop-color="rgb(28,28,28)"/><stop offset="0.284" stop-color="rgb(33,33,33)"/><stop offset="0.435" stop-color="rgb(39,39,39)"/><stop offset="0.436" stop-color="rgb(40,40,40)"/><stop offset="0.450" stop-color="rgb(43,43,43)"/><stop offset="1.000" stop-color="rgb(38,38,38)"/></linearGradient>
<rect x="727.6" y="9" width="88.7" height="666.2" fill="url(#sbg7)"/>
<rect x="742.0" y="295.0" width="70.0" height="400.0" rx="35.0" fill="rgb(52,52,52)" filter="url(#b7)"/>
<rect x="755.0" y="420.0" width="46.0" height="270.0" rx="23.0" fill="rgb(69,69,69)" filter="url(#b6)"/>
<ellipse cx="780.0" cy="423.0" rx="18.0" ry="15.0" fill="rgb(123,123,123)" filter="url(#b6)"/>
<g transform="rotate(-5.0 778.0 370.0)">
<ellipse cx="778.0" cy="370.0" rx="33.0" ry="60.0" fill="rgb(105,105,105)" filter="url(#b6)"/>
<ellipse cx="778.0" cy="370.0" rx="28.0" ry="55.0" fill="rgb(152,152,152)" filter="url(#b5)"/>
</g>
<g transform="translate(66.6,88.8)"><rect class="m" x="661.0" y="-79.8" width="88.7" height="291.0" fill="url(#nzC)"/></g>
<g transform="translate(0.0,37.0)"><rect class="m" x="727.6" y="-28.0" width="88.7" height="291.0" fill="url(#nzC)"/></g>
<g transform="translate(12.3,4.1)"><rect class="m" x="715.3" y="295.9" width="88.7" height="375.2" fill="url(#nzA)"/></g>
<g transform="translate(69.7,49.2)"><rect class="m" x="657.9" y="250.8" width="88.7" height="375.2" fill="url(#nzB)"/></g>
<g transform="rotate(-5.0 778.0 370.0)">
<ellipse cx="778.0" cy="369.0" rx="23.0" ry="46.0" fill="rgb(189,189,189)" filter="url(#b4)"/>
<ellipse cx="778.0" cy="367.0" rx="16.0" ry="35.0" fill="rgb(210,210,210)" filter="url(#b5)"/>
<ellipse cx="768.0" cy="349.0" rx="8.0" ry="14.0" fill="rgb(242,242,242)" filter="url(#b3)"/>
<ellipse cx="788.0" cy="384.0" rx="7.0" ry="12.0" fill="rgb(255,255,255)" filter="url(#b3)"/>
</g>
<mask id="cb7" maskUnits="userSpaceOnUse" x="675.5" y="250" width="102.7" height="250"><ellipse cx="732.9" cy="316.7" rx="24.0" ry="49.0" fill="#fff" filter="url(#b3)" transform="rotate(-5.0 732.9 316.7)"/></mask>
<g transform="translate(45.1,53.3)"><rect class="m" mask="url(#cb7)" opacity="0.85" x="682.5" y="246.7" width="88.7" height="150.0" fill="url(#nzA)"/></g>
</g>
<rect x="767.0" y="350.1" width="4.1" height="4.1" fill="#d05010"/>
<rect x="758.8" y="341.9" width="4.1" height="4.1" fill="#e0d060"/>
<rect x="762.9" y="337.8" width="4.1" height="4.1" fill="#c8b040"/>
<rect x="771.1" y="337.8" width="4.1" height="4.1" fill="#f0a040"/>
<rect x="775.2" y="354.2" width="4.1" height="4.1" fill="#c8b040"/>
<rect x="771.1" y="350.1" width="4.1" height="4.1" fill="#f8e090"/>
<rect x="762.9" y="354.2" width="4.1" height="4.1" fill="#e0d060"/>
<rect x="771.1" y="329.6" width="4.1" height="4.1" fill="#c8b040"/>
<rect x="762.9" y="366.5" width="4.1" height="4.1" fill="#f8e090"/>
<rect x="787.0" y="369.7" width="4.1" height="4.1" fill="#ffe8b0"/>
<rect x="787.0" y="382.0" width="4.1" height="4.1" fill="#f0a040"/>
<rect x="795.2" y="373.8" width="4.1" height="4.1" fill="#d04010"/>
<rect x="778.8" y="377.9" width="4.1" height="4.1" fill="#c02000"/>
<rect x="787.0" y="390.2" width="4.1" height="4.1" fill="#fffbe8"/>
<rect x="782.9" y="386.1" width="4.1" height="4.1" fill="#d04010"/>
<rect x="787.0" y="377.9" width="4.1" height="4.1" fill="#c02000"/>
<rect x="783.1" y="463.3" width="4.1" height="4.1" fill="#6a98ff"/>
<rect x="779.0" y="606.8" width="4.1" height="4.1" fill="#6a98ff"/>
<rect x="766.7" y="651.9" width="4.1" height="4.1" fill="#5a8cf8"/>
<rect x="791.3" y="610.9" width="4.1" height="4.1" fill="#5a8cf8"/>
<rect x="791.3" y="528.9" width="4.1" height="4.1" fill="#4c80ff"/>
<rect x="783.1" y="463.3" width="4.1" height="4.1" fill="#4c80ff"/>
<rect x="770.8" y="569.9" width="4.1" height="4.1" fill="#5a8cf8"/>
<rect x="779.0" y="664.2" width="4.1" height="4.1" fill="#4c80ff"/>
<rect x="795.4" y="451.0" width="4.1" height="4.1" fill="#3c70ff"/>
<rect x="766.7" y="602.7" width="4.1" height="4.1" fill="#4c80ff"/>
<rect x="791.3" y="479.7" width="4.1" height="4.1" fill="#4c80ff"/>
<rect x="762.6" y="463.3" width="4.1" height="4.1" fill="#5a8cf8"/>
</g>
<rect x="822.8" y="12" width="21.2" height="660.6" fill="url(#cbar)"/>
<text x="852.5" y="51.7" font-size="34.5" fill="#000">High</text>
<text x="852.2" y="671.9" font-size="34" fill="#000">Low</text>
<text transform="translate(899,474.5) rotate(-90)" font-size="33.5" fill="#000"><tspan font-size="21" dy="-11">74</tspan><tspan dy="11">As radioactivity</tspan></text>
<text x="145.5" y="701.8" font-size="34" fill="#000">4h</text>
<text x="223.4" y="701.8" font-size="34" fill="#000">24h</text>
<text x="308.9" y="701.8" font-size="34" fill="#000">48h</text>
<text x="393.6" y="701.8" font-size="34" fill="#000">72h</text>
<text x="478.0" y="701.8" font-size="34" fill="#000">96h</text>
<text x="563.3" y="701.8" font-size="33" fill="#000">120h</text>
<text x="647.3" y="701.8" font-size="33" fill="#000">144h</text>
<text x="732.0" y="701.8" font-size="33" fill="#000">168h</text>
<text x="125.5" y="49.3" font-size="37.5" font-weight="bold" fill="#fff">(b)</text>
<clipPath id="ca"><rect x="12.2" y="11.5" width="90.3" height="694.8"/></clipPath>
<filter id="lt" x="-20%" y="-20%" width="140%" height="140%"><feGaussianBlur stdDeviation="0.7"/></filter>
<g clip-path="url(#ca)"><g filter="url(#lt)">
<rect x="12" y="11" width="91" height="640" fill="#0e0e0e"/>
<rect x="12" y="649" width="91" height="60" fill="#fcfcfc"/>
<rect x="12" y="11" width="7.5" height="638" fill="#2b2b2b"/>
<rect x="19.2" y="11" width="1.3" height="638" fill="#6a6a6a"/>
<rect x="12" y="12.0" width="5.5" height="9" fill="#d6d6d6"/>
<rect x="12" y="52.5" width="5.5" height="9" fill="#d6d6d6"/>
<rect x="12" y="94.0" width="5.5" height="9" fill="#d6d6d6"/>
<rect x="12" y="135.5" width="5.5" height="9" fill="#d6d6d6"/>
<rect x="12" y="177.0" width="5.5" height="9" fill="#d6d6d6"/>
<rect x="12" y="218.5" width="5.5" height="9" fill="#d6d6d6"/>
<rect x="12" y="260.0" width="5.5" height="9" fill="#d6d6d6"/>
<rect x="12" y="301.5" width="5.5" height="9" fill="#d6d6d6"/>
<rect x="12" y="343.0" width="5.5" height="9" fill="#d6d6d6"/>
<rect x="12" y="384.5" width="5.5" height="9" fill="#d6d6d6"/>
<rect x="12" y="421.0" width="5.5" height="9" fill="#d6d6d6"/>
<rect x="97.5" y="422" width="5" height="9" fill="#cfcfcf"/>
<path d="M79 11 L103 11 L103 62 L84 60 L63 62 L62 28 Z" fill="#bdbdbd"/>
<path d="M68 79 L103 74 L103 130 L68 130 Z" fill="#a9a9a9"/>
<path d="M80 57 L103 55 L103 76 L86 80 Z" fill="#6a6a6a"/>
<path d="M72 80 L72 130" stroke="#d0d0d0" stroke-width="1.5" opacity="0.7"/>
<path d="M78 80 L78 130" stroke="#d0d0d0" stroke-width="1.5" opacity="0.7"/>
<path d="M84 80 L84 130" stroke="#d0d0d0" stroke-width="1.5" opacity="0.7"/>
<path d="M90 80 L90 130" stroke="#d0d0d0" stroke-width="1.5" opacity="0.7"/>
<path d="M96 80 L96 130" stroke="#d0d0d0" stroke-width="1.5" opacity="0.7"/>
<path d="M64 62 L74 26" stroke="#d8d8d8" stroke-width="1.2" opacity="0.6"/>
<path d="M69 62 L79 26" stroke="#d8d8d8" stroke-width="1.2" opacity="0.6"/>
<path d="M74 62 L84 26" stroke="#d8d8d8" stroke-width="1.2" opacity="0.6"/>
<path d="M79 62 L89 26" stroke="#d8d8d8" stroke-width="1.2" opacity="0.6"/>
<path d="M84 62 L94 26" stroke="#d8d8d8" stroke-width="1.2" opacity="0.6"/>
<path d="M89 62 L99 26" stroke="#d8d8d8" stroke-width="1.2" opacity="0.6"/>
<path d="M94 62 L104 26" stroke="#d8d8d8" stroke-width="1.2" opacity="0.6"/>
<path d="M99 62 L109 26" stroke="#d8d8d8" stroke-width="1.2" opacity="0.6"/>
<path d="M10 36 Q42 72 70 104" stroke="#9a9a9a" stroke-width="8" fill="none"/>
<path d="M10 36 Q42 72 70 104" stroke="#5a5a5a" stroke-width="3.5" fill="none"/>
<path d="M12 26 L103 21" stroke="#1a1a1a" stroke-width="1.3"/>
<path d="M12 113 L103 107" stroke="#1a1a1a" stroke-width="1.3"/>
<path d="M12 194 L103 197" stroke="#1a1a1a" stroke-width="1.3"/>
<path d="M12 260 L103 260" stroke="#1a1a1a" stroke-width="1.3"/>
<path d="M19 34 Q26 22 40 23 Q47 30 44 40 Q36 50 24 47 Q18 42 19 34 Z" fill="#86c03c"/>
<path d="M48 44 Q55 48 55 58 Q52 62 49 60 Q46 52 48 44 Z" fill="#6ea634"/>
<path d="M40 24 Q44 12 52 12 Q62 12 68 24 Q74 40 74 70 Q75 100 69 125" stroke="#7faf44" stroke-width="2.4" fill="none"/>
<path d="M18 200 Q17 150 22 130 Q28 116 38 117 Q50 118 54 134 Q57 120 62 115 Q70 113 74 126 Q82 116 92 116 Q102 120 102 140 L102 230 Q90 222 80 210 L60 205 Q40 212 30 245 Q18 240 18 200 Z" fill="#66a02e"/>
<path d="M20 160 Q22 124 38 118 Q52 122 54 150 Q54 180 44 196 Q28 196 20 160 Z" fill="#6fa832"/>
<path d="M44 185 Q44 160 54 154 Q62 150 66 165 Q70 190 62 205 Q50 210 44 185 Z" fill="#5f9a2a"/>
<path d="M64 150 Q70 130 88 126 Q101 130 101 160 Q100 200 86 208 Q70 200 64 150 Z" fill="#6aa430"/>
<path d="M56 118 Q62 112 70 116 Q72 132 66 146 Q58 138 56 118 Z" fill="#80b640"/>
<path d="M18 205 Q22 198 36 201 Q50 208 51 228 Q49 246 40 245 Q22 238 18 205 Z" fill="#679e31"/>
<path d="M20 265 Q26 254 40 255 Q47 262 46 272 Q38 283 26 281 Q18 276 20 265 Z" fill="#8cbb55"/>
<path d="M58 232 Q61 222 72 223 Q78 228 76 238 Q68 243 58 240 Z" fill="#79b042"/>
<path d="M86 212 Q96 220 101 230 L101 256 Q92 254 88 240 Q84 226 86 212 Z" fill="#74ab3e"/>
<path d="M48 205 L50 240 L56 238 L58 205 Z" fill="#2a2a2a" opacity="0.8"/>
<path d="M24 140 Q30 122 40 122 Q48 128 46 146 Q36 150 24 140 Z" fill="#84bb44" opacity="0.7"/>
<path d="M72 140 Q82 126 94 130 Q98 150 88 158 Q76 156 72 140 Z" fill="#82b844" opacity="0.6"/>
<path d="M40 176 Q50 168 56 180 Q54 196 44 196 Z" fill="#4f8420" opacity="0.6"/>
<path d="M66 185 Q80 180 92 192 Q86 206 74 206 Z" fill="#558a24" opacity="0.6"/>
<path d="M48 240 Q55 262 58 286" stroke="#a6c878" stroke-width="2.4" fill="none"/>
<path d="M58 215 Q62 250 62 286" stroke="#a6c878" stroke-width="2.4" fill="none"/>
<path d="M70 238 Q68 262 66 286" stroke="#a6c878" stroke-width="2.4" fill="none"/>
<path d="M84 240 Q76 262 70 286" stroke="#a6c878" stroke-width="2.4" fill="none"/>
<path d="M40 242 Q50 262 54 286" stroke="#a6c878" stroke-width="2.4" fill="none"/>
<path d="M16 226 Q32 255 49 281" stroke="#9a9a9a" stroke-width="6" fill="none" opacity="0.85"/>
<path d="M88 222 Q80 262 74 300 Q72 330 72 352" stroke="#c8d0d2" stroke-width="7" fill="none" opacity="0.85"/>
<rect x="27" y="281" width="64" height="8" fill="#d4d4d4"/>
<rect x="35" y="289" width="46" height="62" fill="#3a3a3a"/>
<path d="M36 291 L80 291 L80 322 L70 326 L36 322 Z" fill="#8c8c8c"/>
<path d="M36 322 L52 321 Q60 330 56 346 L36 346 Z" fill="#5a5a5a"/>
<path d="M60 322 L80 320 L80 346 L62 346 Z" fill="#6a6a6a"/>
<rect x="36" y="345" width="44" height="5" fill="#c4c4c4"/>
<path d="M12 316 L46 276" stroke="#8a8a8a" stroke-width="6" opacity="0.8"/>
<path d="M76 281 Q66 330 46 410" stroke="#a8b0b8" stroke-width="4" fill="none" opacity="0.9"/>
<path d="M80 281 Q72 330 58 410" stroke="#a8b0b8" stroke-width="3" fill="none" opacity="0.8"/>
<path d="M80 333 Q92 338 102 348" stroke="#c8c8c8" stroke-width="4" fill="none"/>
<rect x="97.5" y="301.5" width="5" height="9" fill="#d0d0d0"/>
<rect x="97.5" y="343.0" width="5" height="9" fill="#d0d0d0"/>
<rect x="97.5" y="384.5" width="5" height="9" fill="#d0d0d0"/>
<rect x="20.5" y="351" width="82" height="298" fill="#161616"/>
<rect x="35.5" y="351" width="39" height="298" fill="#1d1d1d"/>
<rect x="14.0" y="350" width="1.3" height="299" fill="#9a9a9a" opacity="0.50"/>
<rect x="26.0" y="350" width="1.3" height="299" fill="#9a9a9a" opacity="0.80"/>
<rect x="35.5" y="350" width="1.3" height="299" fill="#9a9a9a" opacity="0.90"/>
<rect x="41.0" y="350" width="1.3" height="299" fill="#9a9a9a" opacity="0.50"/>
<rect x="74.0" y="350" width="1.3" height="299" fill="#9a9a9a" opacity="0.90"/>
<rect x="78.0" y="350" width="1.3" height="299" fill="#9a9a9a" opacity="1.00"/>
<rect x="85.0" y="350" width="1.3" height="299" fill="#9a9a9a" opacity="0.60"/>
<rect x="98.0" y="350" width="1.3" height="299" fill="#9a9a9a" opacity="0.50"/>
<g fill="#cfcfcf"><circle cx="59.4" cy="556.1" r="1.0"/><circle cx="70.9" cy="555.8" r="1.1"/><circle cx="38.0" cy="509.2" r="1.1"/><circle cx="60.4" cy="583.2" r="0.6"/><circle cx="53.9" cy="471.9" r="0.8"/><circle cx="57.7" cy="432.2" r="0.6"/><circle cx="47.1" cy="585.8" r="1.0"/><circle cx="42.7" cy="565.5" r="0.6"/><circle cx="59.2" cy="451.5" r="0.5"/><circle cx="68.4" cy="465.6" r="0.6"/><circle cx="72.4" cy="578.3" r="0.7"/><circle cx="71.6" cy="521.7" r="0.9"/><circle cx="44.4" cy="590.0" r="0.9"/><circle cx="71.8" cy="581.9" r="0.7"/><circle cx="50.0" cy="458.2" r="0.6"/><circle cx="39.3" cy="481.2" r="0.9"/><circle cx="37.1" cy="545.2" r="0.7"/><circle cx="48.2" cy="569.1" r="0.8"/><circle cx="48.4" cy="511.8" r="0.9"/><circle cx="39.1" cy="595.8" r="0.5"/><circle cx="64.0" cy="573.6" r="0.5"/><circle cx="65.4" cy="492.3" r="0.8"/><circle cx="37.3" cy="437.9" r="0.6"/><circle cx="71.4" cy="463.4" r="1.0"/><circle cx="70.5" cy="590.1" r="0.7"/><circle cx="49.8" cy="519.2" r="1.0"/><circle cx="40.9" cy="557.2" r="1.0"/><circle cx="67.9" cy="436.2" r="1.1"/><circle cx="40.3" cy="487.9" r="0.9"/><circle cx="70.1" cy="487.8" r="1.1"/><circle cx="56.6" cy="483.1" r="0.7"/><circle cx="43.4" cy="443.3" r="0.6"/><circle cx="61.8" cy="599.4" r="0.6"/><circle cx="38.7" cy="597.7" r="0.8"/><circle cx="51.6" cy="470.3" r="0.9"/><circle cx="66.7" cy="507.5" r="0.8"/><circle cx="39.0" cy="585.7" r="0.5"/><circle cx="54.8" cy="572.5" r="0.6"/><circle cx="63.3" cy="591.5" r="0.9"/><circle cx="65.4" cy="448.1" r="0.8"/><circle cx="42.4" cy="573.6" r="0.7"/><circle cx="53.3" cy="599.9" r="1.0"/><circle cx="72.1" cy="507.1" r="0.8"/><circle cx="63.3" cy="511.4" r="0.7"/><circle cx="51.5" cy="454.9" r="0.7"/><circle cx="72.6" cy="593.2" r="0.9"/><circle cx="55.0" cy="487.5" r="0.6"/><circle cx="46.8" cy="562.9" r="1.0"/><circle cx="50.0" cy="563.6" r="1.0"/><circle cx="62.0" cy="542.9" r="1.0"/><circle cx="50.1" cy="549.8" r="0.7"/><circle cx="54.5" cy="560.9" r="0.9"/><circle cx="47.6" cy="590.7" r="0.9"/><circle cx="57.9" cy="432.0" r="0.8"/><circle cx="46.0" cy="544.2" r="0.8"/><circle cx="66.4" cy="540.1" r="1.0"/><circle cx="49.5" cy="539.5" r="0.9"/><circle cx="66.8" cy="489.5" r="1.0"/><circle cx="68.3" cy="547.0" r="1.1"/><circle cx="71.4" cy="518.1" r="0.8"/><circle cx="43.0" cy="572.2" r="1.1"/><circle cx="54.2" cy="547.5" r="0.9"/><circle cx="63.3" cy="459.2" r="1.0"/><circle cx="57.9" cy="543.1" r="0.8"/><circle cx="59.5" cy="561.7" r="0.9"/><circle cx="62.9" cy="434.7" r="0.6"/><circle cx="52.9" cy="540.5" r="0.6"/><circle cx="61.7" cy="537.2" r="0.5"/><circle cx="54.0" cy="468.5" r="0.5"/><circle cx="41.8" cy="483.9" r="0.6"/></g>
<rect x="12" y="398" width="91" height="3" fill="#d4dce4"/>
<path d="M46 352 Q42 380 47 418 Q56 436 68 430 Q71 400 68 352 Z" fill="#a8a490" opacity="0.6"/>
<path d="M50 360 Q54 390 52 425 M58 358 Q62 395 60 430 M64 356 Q60 392 66 425" stroke="#d8d2bc" stroke-width="1.2" fill="none" opacity="0.7"/>
<path d="M73.5 400 Q75 480 73 570" stroke="#d6d0bc" stroke-width="2" fill="none"/>
<path d="M41.7 350 L41.7 472" stroke="#a8b8cc" stroke-width="3" fill="none"/>
<path d="M64 350 Q58 430 38 502" stroke="#a8b8cc" stroke-width="3" fill="none"/>
<path d="M45 478 Q50 510 54.5 541" stroke="#a8b8cc" stroke-width="3" fill="none"/>
<path d="M12 452 Q25 458 42 472" stroke="#bdbdbd" stroke-width="2.5" fill="none"/>
<path d="M12 530 Q28 505 45 491" stroke="#bdbdbd" stroke-width="2.5" fill="none"/>
<path d="M12 565 Q55 525 102 500" stroke="#c4c4c4" stroke-width="3" fill="none"/>
<circle cx="16" cy="494" r="6" fill="#4a4a4a" stroke="#e4e4e4" stroke-width="2.5"/>
<circle cx="97" cy="495" r="6" fill="#4a4a4a" stroke="#e4e4e4" stroke-width="2.5"/>
<circle cx="16" cy="616" r="6" fill="#4a4a4a" stroke="#e4e4e4" stroke-width="2.5"/>
<circle cx="97" cy="616" r="6" fill="#4a4a4a" stroke="#e4e4e4" stroke-width="2.5"/>
<path d="M40 560 L73 557 L73 572 L40 574 Z" fill="#dcd8c6"/>
<circle cx="54.4" cy="577" r="3.5" fill="#e8e8e8"/>
<path d="M33 603 L76 601 L76 649 L33 649 Z" fill="#c9c9c9"/>
<circle cx="52" cy="631" r="2" fill="#f4f4f4"/>
<rect x="25" y="649" width="60" height="22" fill="#f2f2f2"/>
<path d="M33 660 L80 660" stroke="#c8c8c8" stroke-width="1"/>
</g></g>
<text x="18.4" y="49.6" font-size="37.5" font-weight="bold" fill="#fff">(a)</text>
<rect x="9.3" y="8" width="96.1" height="701.3" rx="2.5" fill="none" stroke="#ff0000" stroke-width="6.1"/>
<rect x="12.2" y="758.8" width="89.8" height="664.2" fill="#efefef" stroke="none"/>
<rect x="95" y="760" width="6" height="662" fill="#e6e6e6"/>
<linearGradient id="cg" x1="0" y1="1090" x2="0" y2="1422" gradientUnits="userSpaceOnUse"><stop offset="0" stop-color="#9a9a9a"/><stop offset="0.3" stop-color="#c4c4c4"/><stop offset="0.6" stop-color="#d4d4d4"/><stop offset="1" stop-color="#dadada"/></linearGradient>
<rect x="36" y="1088" width="44" height="334" rx="10" fill="url(#cg)" filter="url(#b5)"/>
<ellipse cx="58" cy="1120" rx="19" ry="30" fill="#7a7a7a" filter="url(#b6)"/>
<ellipse cx="50" cy="1111" rx="8" ry="12" fill="#3c3c3c" filter="url(#b4)"/>
<ellipse cx="69" cy="1136" rx="7" ry="11" fill="#2e2e2e" filter="url(#b4)"/>
<ellipse cx="56" cy="1090" rx="6" ry="5" fill="#111" filter="url(#b3)"/>
<rect x="12.2" y="758.8" width="89.8" height="664.2" fill="none" stroke="#000" stroke-width="2.2"/>
<rect x="14.55" y="761.25" width="85.1" height="284.8" fill="none" stroke="#00b050" stroke-width="2.5"/>
<rect x="26.8" y="1049.6" width="61.6" height="43.1" fill="none" stroke="#77933c" stroke-width="2"/>
<rect x="27" y="1095.7" width="62.2" height="324.6" fill="none" stroke="#7030a0" stroke-width="2"/>
<rect x="30" y="1310.7" width="55.6" height="105.5" fill="none" stroke="#00b0f0" stroke-width="2"/>
<text x="27.6" y="803.5" font-size="37.2" font-weight="bold" fill="#000">(c)</text>
<text transform="translate(64.2,960.5) rotate(-90)" font-size="26" fill="#00b050">shoots</text>
<text x="27.4" y="1079.5" font-size="26" fill="#4f6228">Roots</text>
<text transform="translate(70,1290) rotate(-90)" font-size="26"><tspan fill="#00b0f0">Solution</tspan><tspan fill="#000">+</tspan><tspan fill="#4f6228">Roots</tspan></text>
<text transform="translate(70.3,1409.5) rotate(-90)" font-size="26" fill="#00b0f0">Solution</text>
<text x="132" y="801.5" font-size="37.5" font-weight="bold" fill="#000">(d)</text>
<path d="M368.4 819.9 L368.4 1296.1 L885.6 1296.1" stroke="#878787" stroke-width="1.6" fill="none"/>
<path d="M359.6 1296.1 L368.4 1296.1" stroke="#878787" stroke-width="1.6"/>
<path d="M359.6 1216.7 L368.4 1216.7" stroke="#878787" stroke-width="1.6"/>
<path d="M359.6 1137.4 L368.4 1137.4" stroke="#878787" stroke-width="1.6"/>
<path d="M359.6 1058.0 L368.4 1058.0" stroke="#878787" stroke-width="1.6"/>
<path d="M359.6 978.6 L368.4 978.6" stroke="#878787" stroke-width="1.6"/>
<path d="M359.6 899.2 L368.4 899.2" stroke="#878787" stroke-width="1.6"/>
<path d="M359.6 819.9 L368.4 819.9" stroke="#878787" stroke-width="1.6"/>
<text x="343.5" y="1306.2" font-size="28" font-weight="bold" text-anchor="end" fill="#000">0</text>
<text x="343.5" y="1226.8" font-size="28" font-weight="bold" text-anchor="end" fill="#000">0.00005</text>
<text x="343.5" y="1147.5" font-size="28" font-weight="bold" text-anchor="end" fill="#000">0.0001</text>
<text x="343.5" y="1068.1" font-size="28" font-weight="bold" text-anchor="end" fill="#000">0.00015</text>
<text x="343.5" y="988.7" font-size="28" font-weight="bold" text-anchor="end" fill="#000">0.0002</text>
<text x="343.5" y="909.3" font-size="28" font-weight="bold" text-anchor="end" fill="#000">0.00025</text>
<text x="343.5" y="830.0" font-size="28" font-weight="bold" text-anchor="end" fill="#000">0.0003</text>
<path d="M368.4 1296.1 L368.4 1305" stroke="#878787" stroke-width="1.6"/>
<text x="368.4" y="1339.8" font-size="28" font-weight="bold" text-anchor="middle" fill="#000">0</text>
<path d="M425.9 1296.1 L425.9 1305" stroke="#878787" stroke-width="1.6"/>
<text x="425.9" y="1339.8" font-size="28" font-weight="bold" text-anchor="middle" fill="#000">20</text>
<path d="M483.3 1296.1 L483.3 1305" stroke="#878787" stroke-width="1.6"/>
<text x="483.3" y="1339.8" font-size="28" font-weight="bold" text-anchor="middle" fill="#000">40</text>
<path d="M540.8 1296.1 L540.8 1305" stroke="#878787" stroke-width="1.6"/>
<text x="540.8" y="1339.8" font-size="28" font-weight="bold" text-anchor="middle" fill="#000">60</text>
<path d="M598.3 1296.1 L598.3 1305" stroke="#878787" stroke-width="1.6"/>
<text x="598.3" y="1339.8" font-size="28" font-weight="bold" text-anchor="middle" fill="#000">80</text>
<path d="M655.7 1296.1 L655.7 1305" stroke="#878787" stroke-width="1.6"/>
<text x="655.7" y="1339.8" font-size="28" font-weight="bold" text-anchor="middle" fill="#000">100</text>
<path d="M713.2 1296.1 L713.2 1305" stroke="#878787" stroke-width="1.6"/>
<text x="713.2" y="1339.8" font-size="28" font-weight="bold" text-anchor="middle" fill="#000">120</text>
<path d="M770.7 1296.1 L770.7 1305" stroke="#878787" stroke-width="1.6"/>
<text x="770.7" y="1339.8" font-size="28" font-weight="bold" text-anchor="middle" fill="#000">140</text>
<path d="M828.1 1296.1 L828.1 1305" stroke="#878787" stroke-width="1.6"/>
<text x="828.1" y="1339.8" font-size="28" font-weight="bold" text-anchor="middle" fill="#000">160</text>
<path d="M885.6 1296.1 L885.6 1305" stroke="#878787" stroke-width="1.6"/>
<text x="885.6" y="1339.8" font-size="28" font-weight="bold" text-anchor="middle" fill="#000">180</text>
<text x="627.5" y="1382.1" font-size="30" font-weight="bold" text-anchor="middle" fill="#000">Time(h)</text>
<text transform="translate(225.6,1058.6) rotate(-90)" font-size="30.8" font-weight="bold" text-anchor="middle" fill="#000">Arsenic amount mg</text>
<circle cx="392.2" cy="842.9" r="8.3" fill="#0070c0"/>
<text x="404.5" y="852.9" font-size="28" font-weight="bold" fill="#000">Solution</text>
<rect x="384.2" y="883.6" width="16" height="15.6" fill="#77933c"/>
<text x="404.5" y="900" font-size="28" font-weight="bold" fill="#000">Roots</text>
<path d="M392.2 932.5 L400.3 940.6 L392.2 948.7 L384.1 940.6 Z" fill="#00b050"/>
<text x="404.5" y="949.6" font-size="28" font-weight="bold" fill="#000">Shoots</text>
<g fill="#0070c0"><circle cx="379.9" cy="1005.8" r="10"/><circle cx="391.4" cy="1011.4" r="10"/><circle cx="402.9" cy="1026.2" r="10"/><circle cx="414.4" cy="1017.1" r="10"/><circle cx="425.9" cy="1035.7" r="10"/><circle cx="437.4" cy="1055.6" r="10"/><circle cx="448.9" cy="1040.8" r="10"/><circle cx="460.3" cy="1077.9" r="10"/><circle cx="471.8" cy="1085.3" r="10"/><circle cx="483.3" cy="1093.3" r="10"/><circle cx="494.8" cy="1092.3" r="10"/><circle cx="506.3" cy="1100.3" r="10"/><circle cx="517.8" cy="1120.8" r="10"/><circle cx="529.3" cy="1128.0" r="10"/><circle cx="540.8" cy="1137.6" r="10"/><circle cx="552.3" cy="1139.0" r="10"/><circle cx="563.8" cy="1154.0" r="10"/><circle cx="575.3" cy="1159.0" r="10"/><circle cx="586.8" cy="1156.2" r="10"/><circle cx="598.3" cy="1164.6" r="10"/><circle cx="609.8" cy="1173.9" r="10"/><circle cx="621.3" cy="1181.5" r="10"/><circle cx="632.7" cy="1180.7" r="10"/><circle cx="644.2" cy="1184.4" r="10"/><circle cx="655.7" cy="1182.3" r="10"/><circle cx="667.2" cy="1194.9" r="10"/><circle cx="678.7" cy="1186.4" r="10"/><circle cx="690.2" cy="1200.8" r="10"/><circle cx="701.7" cy="1189.8" r="10"/><circle cx="713.2" cy="1199.2" r="10"/><circle cx="724.7" cy="1186.4" r="10"/><circle cx="736.2" cy="1199.2" r="10"/><circle cx="747.7" cy="1199.2" r="10"/><circle cx="759.2" cy="1202.5" r="10"/><circle cx="770.7" cy="1200.8" r="10"/><circle cx="782.2" cy="1195.8" r="10"/><circle cx="793.6" cy="1193.2" r="10"/><circle cx="805.1" cy="1193.0" r="10"/><circle cx="816.6" cy="1216.0" r="10"/><circle cx="828.1" cy="1198.0" r="10"/><circle cx="839.6" cy="1204.5" r="10"/></g>
<g fill="#77933c"><rect x="369.9" y="1238.2" width="20" height="20"/><rect x="381.4" y="1231.5" width="20" height="20"/><rect x="392.9" y="1213.0" width="20" height="20"/><rect x="404.4" y="1220.0" width="20" height="20"/><rect x="415.9" y="1208.0" width="20" height="20"/><rect x="427.4" y="1191.0" width="20" height="20"/><rect x="438.9" y="1198.5" width="20" height="20"/><rect x="450.3" y="1163.8" width="20" height="20"/><rect x="461.8" y="1165.3" width="20" height="20"/><rect x="473.3" y="1157.7" width="20" height="20"/><rect x="484.8" y="1155.2" width="20" height="20"/><rect x="496.3" y="1148.0" width="20" height="20"/><rect x="507.8" y="1120.9" width="20" height="20"/><rect x="519.3" y="1109.9" width="20" height="20"/><rect x="530.8" y="1107.4" width="20" height="20"/><rect x="542.3" y="1103.6" width="20" height="20"/><rect x="553.8" y="1098.7" width="20" height="20"/><rect x="565.3" y="1090.0" width="20" height="20"/><rect x="576.8" y="1088.7" width="20" height="20"/><rect x="588.3" y="1077.5" width="20" height="20"/><rect x="599.8" y="1083.6" width="20" height="20"/><rect x="611.3" y="1081.5" width="20" height="20"/><rect x="622.7" y="1074.1" width="20" height="20"/><rect x="634.2" y="1071.6" width="20" height="20"/><rect x="645.7" y="1082.2" width="20" height="20"/><rect x="657.2" y="1068.0" width="20" height="20"/><rect x="668.7" y="1077.5" width="20" height="20"/><rect x="680.2" y="1065.0" width="20" height="20"/><rect x="691.7" y="1069.1" width="20" height="20"/><rect x="703.2" y="1061.5" width="20" height="20"/><rect x="714.7" y="1067.6" width="20" height="20"/><rect x="726.2" y="1077.7" width="20" height="20"/><rect x="737.7" y="1066.2" width="20" height="20"/><rect x="749.2" y="1062.8" width="20" height="20"/><rect x="760.7" y="1062.8" width="20" height="20"/><rect x="772.2" y="1074.2" width="20" height="20"/><rect x="783.6" y="1076.3" width="20" height="20"/><rect x="795.1" y="1071.4" width="20" height="20"/><rect x="806.6" y="1055.2" width="20" height="20"/><rect x="818.1" y="1075.2" width="20" height="20"/><rect x="829.6" y="1070.0" width="20" height="20"/></g>
<g fill="#00b050"><path d="M379.9 1239.0L390.7 1249.8L379.9 1260.6L369.1 1249.8Z"/><path d="M391.4 1238.2L402.2 1249.0L391.4 1259.8L380.6 1249.0Z"/><path d="M402.9 1235.6L413.7 1246.4L402.9 1257.2L392.1 1246.4Z"/><path d="M414.4 1237.0L425.2 1247.8L414.4 1258.6L403.6 1247.8Z"/><path d="M425.9 1237.3L436.7 1248.1L425.9 1258.9L415.1 1248.1Z"/><path d="M437.4 1228.0L448.2 1238.8L437.4 1249.6L426.6 1238.8Z"/><path d="M448.9 1230.6L459.7 1241.4L448.9 1252.2L438.1 1241.4Z"/><path d="M460.3 1229.4L471.1 1240.2L460.3 1251.0L449.5 1240.2Z"/><path d="M471.8 1226.3L482.6 1237.1L471.8 1247.9L461.0 1237.1Z"/><path d="M483.3 1223.2L494.1 1234.0L483.3 1244.8L472.5 1234.0Z"/><path d="M494.8 1222.6L505.6 1233.4L494.8 1244.2L484.0 1233.4Z"/><path d="M506.3 1224.0L517.1 1234.8L506.3 1245.6L495.5 1234.8Z"/><path d="M517.8 1218.1L528.6 1228.9L517.8 1239.7L507.0 1228.9Z"/><path d="M529.3 1215.6L540.1 1226.4L529.3 1237.2L518.5 1226.4Z"/><path d="M540.8 1215.8L551.6 1226.6L540.8 1237.4L530.0 1226.6Z"/><path d="M552.3 1219.2L563.1 1230.0L552.3 1240.8L541.5 1230.0Z"/><path d="M563.8 1214.5L574.6 1225.3L563.8 1236.1L553.0 1225.3Z"/><path d="M575.3 1208.4L586.1 1219.2L575.3 1230.0L564.5 1219.2Z"/><path d="M586.8 1219.5L597.6 1230.3L586.8 1241.1L576.0 1230.3Z"/><path d="M598.3 1210.9L609.1 1221.7L598.3 1232.5L587.5 1221.7Z"/><path d="M609.8 1210.9L620.6 1221.7L609.8 1232.5L599.0 1221.7Z"/><path d="M621.3 1209.4L632.1 1220.2L621.3 1231.0L610.5 1220.2Z"/><path d="M632.7 1208.1L643.5 1218.9L632.7 1229.7L621.9 1218.9Z"/><path d="M644.2 1205.8L655.0 1216.6L644.2 1227.4L633.4 1216.6Z"/><path d="M655.7 1209.1L666.5 1219.9L655.7 1230.7L644.9 1219.9Z"/><path d="M667.2 1206.5L678.0 1217.3L667.2 1228.1L656.4 1217.3Z"/><path d="M678.7 1208.1L689.5 1218.9L678.7 1229.7L667.9 1218.9Z"/><path d="M690.2 1201.8L701.0 1212.6L690.2 1223.4L679.4 1212.6Z"/><path d="M701.7 1203.5L712.5 1214.3L701.7 1225.1L690.9 1214.3Z"/><path d="M713.2 1200.4L724.0 1211.2L713.2 1222.0L702.4 1211.2Z"/><path d="M724.7 1202.3L735.5 1213.1L724.7 1223.9L713.9 1213.1Z"/><path d="M736.2 1200.4L747.0 1211.2L736.2 1222.0L725.4 1211.2Z"/><path d="M747.7 1198.8L758.5 1209.6L747.7 1220.4L736.9 1209.6Z"/><path d="M759.2 1196.5L770.0 1207.3L759.2 1218.1L748.4 1207.3Z"/><path d="M770.7 1198.1L781.5 1208.9L770.7 1219.7L759.9 1208.9Z"/><path d="M782.2 1200.0L793.0 1210.8L782.2 1221.6L771.4 1210.8Z"/><path d="M793.6 1210.7L804.4 1221.5L793.6 1232.3L782.8 1221.5Z"/><path d="M805.1 1189.7L815.9 1200.5L805.1 1211.3L794.3 1200.5Z"/><path d="M816.6 1198.1L827.4 1208.9L816.6 1219.7L805.8 1208.9Z"/><path d="M828.1 1198.2L838.9 1209.0L828.1 1219.8L817.3 1209.0Z"/><path d="M839.6 1187.2L850.4 1198.0L839.6 1208.8L828.8 1198.0Z"/></g>
</svg></body></html>
